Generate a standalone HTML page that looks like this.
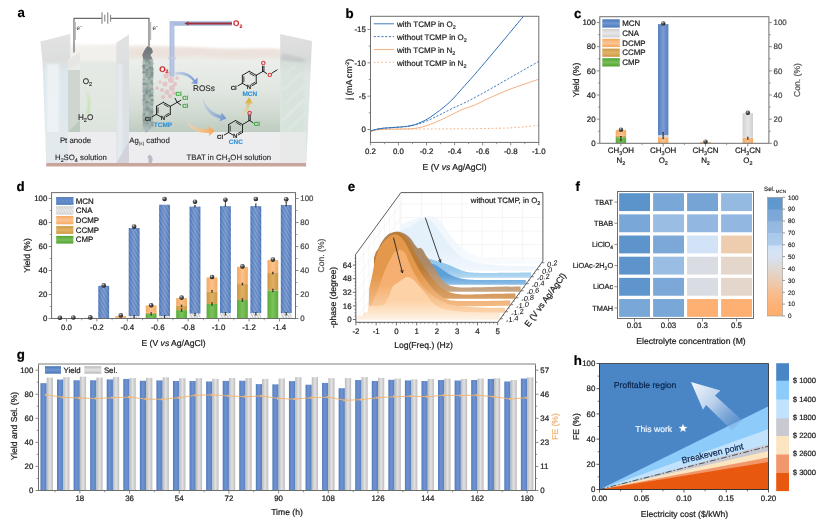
<!DOCTYPE html>
<html lang="en">
<head>
<meta charset="utf-8">
<title>Figure</title>
<style>
html,body{margin:0;padding:0;background:#fff;}
body{width:826px;height:524px;overflow:hidden;font-family:'Liberation Sans', Arial, Helvetica, sans-serif;}
svg{display:block;}
svg text{font-family:'Liberation Sans', Arial, Helvetica, sans-serif;text-rendering:geometricPrecision;}
</style>
</head>
<body>
<svg width="826" height="524" viewBox="0 0 826 524">
<defs>
<linearGradient id="gMCN" x1="0" x2="1" y1="0" y2="0"><stop offset="0" stop-color="#547fbf"/><stop offset="0.5" stop-color="#7c9cd3"/><stop offset="1" stop-color="#547fbf"/></linearGradient>
<linearGradient id="gCNA" x1="0" x2="1" y1="0" y2="0"><stop offset="0" stop-color="#d0d0d2"/><stop offset="0.5" stop-color="#e6e6e8"/><stop offset="1" stop-color="#d0d0d2"/></linearGradient>
<linearGradient id="gDCMP" x1="0" x2="1" y1="0" y2="0"><stop offset="0" stop-color="#f5a95f"/><stop offset="0.5" stop-color="#fbc28e"/><stop offset="1" stop-color="#f5a95f"/></linearGradient>
<linearGradient id="gCCMP" x1="0" x2="1" y1="0" y2="0"><stop offset="0" stop-color="#cf9840"/><stop offset="0.5" stop-color="#deb066"/><stop offset="1" stop-color="#cf9840"/></linearGradient>
<linearGradient id="gCMP" x1="0" x2="1" y1="0" y2="0"><stop offset="0" stop-color="#5aab3a"/><stop offset="0.5" stop-color="#7cc25c"/><stop offset="1" stop-color="#5aab3a"/></linearGradient>
<linearGradient id="vMCN" x1="0" x2="0" y1="0" y2="1"><stop offset="0" stop-color="#4a78ba"/><stop offset="0.5" stop-color="#6f98d0"/><stop offset="1" stop-color="#4a78ba"/></linearGradient>
<linearGradient id="vCNA" x1="0" x2="0" y1="0" y2="1"><stop offset="0" stop-color="#cfcfd2"/><stop offset="0.5" stop-color="#e8e8ea"/><stop offset="1" stop-color="#cfcfd2"/></linearGradient>
<linearGradient id="vDCMP" x1="0" x2="0" y1="0" y2="1"><stop offset="0" stop-color="#f5a95f"/><stop offset="0.5" stop-color="#fcc595"/><stop offset="1" stop-color="#f5a95f"/></linearGradient>
<linearGradient id="vCCMP" x1="0" x2="0" y1="0" y2="1"><stop offset="0" stop-color="#cf9840"/><stop offset="0.5" stop-color="#e0b46c"/><stop offset="1" stop-color="#cf9840"/></linearGradient>
<linearGradient id="vCMP" x1="0" x2="0" y1="0" y2="1"><stop offset="0" stop-color="#52a233"/><stop offset="0.5" stop-color="#78be59"/><stop offset="1" stop-color="#52a233"/></linearGradient>
<radialGradient id="sph" cx="0.38" cy="0.32" r="0.7"><stop offset="0" stop-color="#f4f4f4"/><stop offset="0.3" stop-color="#6a6a6a"/><stop offset="1" stop-color="#101010"/></radialGradient>
<pattern id="hatB" width="3" height="3" patternUnits="userSpaceOnUse" patternTransform="rotate(-30)"><rect width="3" height="3" fill="#7095cf"/><rect width="1.3" height="3" fill="#4a72b4"/></pattern>
<pattern id="hatG" width="2.4" height="2.4" patternUnits="userSpaceOnUse" patternTransform="rotate(-30)"><rect width="2.4" height="2.4" fill="#eeeeee"/><rect width="0.7" height="2.4" fill="#b9b9b9"/></pattern>
<linearGradient id="shB" x1="0" x2="1" y1="0" y2="0"><stop offset="0" stop-color="#2d5aa0" stop-opacity="0.25"/><stop offset="0.5" stop-color="#fff" stop-opacity="0.15"/><stop offset="1" stop-color="#2d5aa0" stop-opacity="0.25"/></linearGradient>
<filter id="bl1" x="-20%" y="-20%" width="140%" height="140%"><feGaussianBlur stdDeviation="0.8"/></filter>
<filter id="bl2" x="-30%" y="-30%" width="160%" height="160%"><feGaussianBlur stdDeviation="1.8"/></filter>
<filter id="bl07" x="-30%" y="-30%" width="160%" height="160%"><feGaussianBlur stdDeviation="0.65"/></filter>
<filter id="bl05" x="-20%" y="-20%" width="140%" height="140%"><feGaussianBlur stdDeviation="0.45"/></filter>
<linearGradient id="aLiq" x1="0" x2="0" y1="0" y2="1"><stop offset="0" stop-color="#ebeeeb"/><stop offset="0.35" stop-color="#e3e8e3"/><stop offset="0.7" stop-color="#d3dcd4"/><stop offset="1" stop-color="#bdcbc0"/></linearGradient>
<linearGradient id="aSurf" x1="0" x2="0" y1="0" y2="1"><stop offset="0" stop-color="#f1e8e2"/><stop offset="0.5" stop-color="#eeeae5"/><stop offset="1" stop-color="#e9ece8"/></linearGradient>
<linearGradient id="aLeft" x1="0" x2="0" y1="0" y2="1"><stop offset="0" stop-color="#e2e2e2"/><stop offset="0.2" stop-color="#dcdedd"/><stop offset="0.3" stop-color="#dde8ec"/><stop offset="1" stop-color="#e1eaee"/></linearGradient>
<linearGradient id="aRight" x1="0" x2="0" y1="0" y2="1"><stop offset="0" stop-color="#e0e0e0"/><stop offset="0.2" stop-color="#d8dad9"/><stop offset="0.32" stop-color="#dfe7e3"/><stop offset="0.8" stop-color="#dae5df"/><stop offset="1" stop-color="#e6e9e9"/></linearGradient>
<linearGradient id="aMid" x1="0" x2="0" y1="0" y2="1"><stop offset="0" stop-color="#e2e2e2"/><stop offset="0.25" stop-color="#dcdfe0"/><stop offset="1" stop-color="#dde3e9"/></linearGradient>
<linearGradient id="aEl" x1="0" x2="0" y1="0" y2="1"><stop offset="0" stop-color="#6d7378"/><stop offset="0.15" stop-color="#7f878a"/><stop offset="0.2" stop-color="#9aaaa5"/><stop offset="0.85" stop-color="#a0b1ab"/><stop offset="1" stop-color="#a9b4c8"/></linearGradient>
<linearGradient id="aTube" x1="0" x2="1" y1="0" y2="0"><stop offset="0" stop-color="#9fb2d6"/><stop offset="0.5" stop-color="#b9c7e4"/><stop offset="1" stop-color="#a6b8da"/></linearGradient>
<linearGradient id="aAb" x1="0" x2="1" y1="0" y2="0"><stop offset="0" stop-color="#a9bfe4" stop-opacity="0.5"/><stop offset="1" stop-color="#6f93cf"/></linearGradient>
<linearGradient id="aAo" x1="0" x2="1" y1="0" y2="0"><stop offset="0" stop-color="#fbd9b4" stop-opacity="0.5"/><stop offset="1" stop-color="#f6a54f"/></linearGradient>
<linearGradient id="aAy" x1="0" x2="0" y1="1" y2="0"><stop offset="0" stop-color="#f3dfa0" stop-opacity="0.4"/><stop offset="1" stop-color="#d9a520"/></linearGradient>
<linearGradient id="es0" x1="0" x2="0" y1="0" y2="1"><stop offset="0" stop-color="#f1f7fd"/><stop offset="0.55" stop-color="#f1f7fd"/><stop offset="1" stop-color="#f8fbfe"/></linearGradient>
<linearGradient id="es1" x1="0" x2="0" y1="0" y2="1"><stop offset="0" stop-color="#e4f0fa"/><stop offset="0.55" stop-color="#e4f0fa"/><stop offset="1" stop-color="#f1f7fd"/></linearGradient>
<linearGradient id="es2" x1="0" x2="0" y1="0" y2="1"><stop offset="0" stop-color="#93c7ec"/><stop offset="0.55" stop-color="#93c7ec"/><stop offset="1" stop-color="#b4d8f2"/></linearGradient>
<linearGradient id="es3" x1="0" x2="0" y1="0" y2="1"><stop offset="0" stop-color="#5d9fd7"/><stop offset="0.55" stop-color="#5d9fd7"/><stop offset="1" stop-color="#8dbfe7"/></linearGradient>
<linearGradient id="es4" x1="0" x2="0" y1="0" y2="1"><stop offset="0" stop-color="#ab8a6a"/><stop offset="0.55" stop-color="#ab8a6a"/><stop offset="1" stop-color="#c9a785"/></linearGradient>
<linearGradient id="es5" x1="0" x2="0" y1="0" y2="1"><stop offset="0" stop-color="#bb7c38"/><stop offset="0.55" stop-color="#bb7c38"/><stop offset="1" stop-color="#d9a066"/></linearGradient>
<linearGradient id="es6" x1="0" x2="0" y1="0" y2="1"><stop offset="0" stop-color="#e4984c"/><stop offset="0.55" stop-color="#e4984c"/><stop offset="1" stop-color="#f4bc88"/></linearGradient>
<linearGradient id="es7" x1="0" x2="0" y1="0" y2="1"><stop offset="0" stop-color="#f5b071"/><stop offset="0.55" stop-color="#f5b071"/><stop offset="1" stop-color="#fbd3aa"/></linearGradient>
<linearGradient id="es8" x1="0" x2="0" y1="0" y2="1"><stop offset="0" stop-color="#fdd2a6"/><stop offset="0.55" stop-color="#fdd2a6"/><stop offset="1" stop-color="#fef2e4"/></linearGradient>
<linearGradient id="cbf" x1="0" x2="0" y1="0" y2="1"><stop offset="0" stop-color="#5f96cc"/><stop offset="0.10" stop-color="#6199ce"/><stop offset="0.105" stop-color="#7aa7d7"/><stop offset="0.20" stop-color="#7ea9d8"/><stop offset="0.205" stop-color="#93b8e0"/><stop offset="0.30" stop-color="#97bbe2"/><stop offset="0.305" stop-color="#a9c8ea"/><stop offset="0.40" stop-color="#afcdec"/><stop offset="0.41" stop-color="#cfe0f5"/><stop offset="0.48" stop-color="#d6e4f6"/><stop offset="0.55" stop-color="#dadee4"/><stop offset="0.62" stop-color="#e2d6cb"/><stop offset="0.72" stop-color="#eccbaf"/><stop offset="0.82" stop-color="#f8bb8a"/><stop offset="0.92" stop-color="#fdb173"/><stop offset="1" stop-color="#fdae6e"/></linearGradient>
<linearGradient id="gY" x1="0" x2="1" y1="0" y2="0"><stop offset="0" stop-color="#527abd"/><stop offset="0.45" stop-color="#6f94d0"/><stop offset="1" stop-color="#5880c2"/></linearGradient>
<linearGradient id="gS" x1="0" x2="1" y1="0" y2="0"><stop offset="0" stop-color="#b9b9bb"/><stop offset="0.5" stop-color="#e2e2e3"/><stop offset="1" stop-color="#bdbdbf"/></linearGradient>
<linearGradient id="gYv" x1="0" x2="0" y1="0" y2="1"><stop offset="0" stop-color="#4a76b8"/><stop offset="0.5" stop-color="#7098d2"/><stop offset="1" stop-color="#4a76b8"/></linearGradient>
<linearGradient id="gSv" x1="0" x2="0" y1="0" y2="1"><stop offset="0" stop-color="#b9b9bb"/><stop offset="0.5" stop-color="#e4e4e5"/><stop offset="1" stop-color="#b9b9bb"/></linearGradient>
<linearGradient id="arw" gradientUnits="userSpaceOnUse" x1="691" y1="382" x2="742" y2="428"><stop offset="0" stop-color="#f4f8fd"/><stop offset="0.45" stop-color="#b9d0ec"/><stop offset="1" stop-color="#6f9ed4" stop-opacity="0.25"/></linearGradient>
</defs>
<rect width="826" height="524" fill="#ffffff"/>
<g id="pa">
<text x="17.4" y="17.2" font-size="13.3" font-weight="bold" fill="#000" stroke="#000" stroke-width="0.1">a</text>
<path d="M70,48 C110,45 150,45 190,47 C230,49 260,48 281,49 L281,64 L70,64 Z" fill="url(#aSurf)" stroke="none" stroke-width="1" filter="url(#bl1)"/>
<rect x="70.00" y="44.00" width="47.00" height="22.00" fill="#f3f2ef" opacity="0.75" filter="url(#bl1)"/>
<path d="M129,50 C150,46 165,49 185,48 C205,47 215,51 235,50 C255,49 265,47 281,50 L281,58 C262,56 250,60 232,59 C212,58 200,55 180,57 C160,59 150,56 129,58 Z" fill="#ead8cf" stroke="none" stroke-width="1" opacity="0.4" filter="url(#bl1)"/>
<rect x="66.00" y="60.00" width="216.00" height="73.00" fill="url(#aLiq)"/>
<rect x="80.00" y="62.00" width="37.00" height="70.00" fill="#e3e8e3" opacity="0.8"/>
<polygon points="40.40,41.50 70.30,34.00 70.30,58.00 68.00,60.00 68.00,163.00 46.20,163.00 42.50,62.00" fill="url(#aLeft)" stroke="none" stroke-width="1"/>
<rect x="47.00" y="64.00" width="12.00" height="99.00" fill="#f0f5f7" opacity="0.8" filter="url(#bl1)"/>
<rect x="68.00" y="70.00" width="12.00" height="62.00" fill="#cfd6cf"/>
<polygon points="68.00,132.00 80.00,120.00 80.00,132.00" fill="#bcc9bf" stroke="none" stroke-width="1"/>
<polygon points="68.00,60.00 80.00,52.00 80.00,64.00 68.00,70.00" fill="#e6e7e4" stroke="none" stroke-width="1"/>
<rect x="46.20" y="132.00" width="260.00" height="31.20" fill="#ededef"/>
<rect x="46.20" y="132.00" width="22.00" height="31.20" fill="#e3eaee"/>
<polygon points="116.40,42.40 129.00,34.40 129.00,163.00 116.40,163.00" fill="url(#aMid)" stroke="none" stroke-width="1"/>
<rect x="117.50" y="64.00" width="5.00" height="99.00" fill="#e6ebf0" opacity="0.8"/>
<polygon points="116.40,163.00 129.00,163.00 129.00,140.00 124.00,150.00" fill="#d3d3dc" stroke="none" stroke-width="1"/>
<polygon points="280.20,34.00 312.00,41.00 306.20,166.60 280.20,163.00" fill="url(#aRight)" stroke="none" stroke-width="1"/>
<rect x="282.00" y="62.00" width="22.00" height="70.00" fill="#d5e2da" opacity="0.7" filter="url(#bl1)"/>
<rect x="280.00" y="132.00" width="26.00" height="31.00" fill="#e8eaea"/>
<g opacity="0.5" filter="url(#bl1)">
<line x1="284.00" y1="74.00" x2="296.00" y2="66.00" stroke="#f2f6f4" stroke-width="1.2"/>
<line x1="283.00" y1="90.00" x2="303.00" y2="72.00" stroke="#f2f6f4" stroke-width="1.6"/>
<line x1="285.00" y1="104.00" x2="304.00" y2="86.00" stroke="#f2f6f4" stroke-width="1.2"/>
<line x1="283.00" y1="120.00" x2="304.00" y2="100.00" stroke="#f2f6f4" stroke-width="1.8"/>
<line x1="288.00" y1="130.00" x2="305.00" y2="114.00" stroke="#f2f6f4" stroke-width="1.2"/>
<line x1="283.00" y1="82.00" x2="290.00" y2="76.00" stroke="#f2f6f4" stroke-width="0.8"/>
</g>
<path d="M281,55 C286,53 292,56 299,57 C303,58 306,60 305,62 C298,63 290,61 281,60 Z" fill="#bfc4c2" stroke="none" stroke-width="1" opacity="0.7" filter="url(#bl1)"/>
<polygon points="46.20,163.00 306.00,163.00 306.00,166.60 46.20,166.60" fill="#c9a69d" stroke="none" stroke-width="1"/>
<path d="M147.5,46 L151.5,48 L153,52 L150.5,55 L152.5,59 L153,66 L153.4,75 L152.8,84 L153.4,93 L152.8,102 L153.4,111 L152.6,120 L151,128 L146,133 L143.5,128 L142.6,120 L143.2,111 L142.5,102 L143.2,93 L142.5,84 L143.2,75 L142.5,66 L143.5,60 L142.2,55 L144.5,50 Z" fill="url(#aEl)" stroke="none" stroke-width="1" filter="url(#bl05)"/>
<g opacity="0.85">
<circle cx="144.02" cy="60.58" r="1.5" fill="#9fb0aa"/>
<circle cx="146.55" cy="61.39" r="1.5" fill="#8a9b97"/>
<circle cx="149.67" cy="60.47" r="1.5" fill="#94a5a0"/>
<circle cx="151.71" cy="60.50" r="1.5" fill="#b3c0bb"/>
<circle cx="143.77" cy="62.81" r="1.5" fill="#b3c0bb"/>
<circle cx="146.56" cy="63.38" r="1.5" fill="#a6b5b0"/>
<circle cx="149.93" cy="63.40" r="1.5" fill="#8a9b97"/>
<circle cx="152.08" cy="63.18" r="1.5" fill="#a6b5b0"/>
<circle cx="143.75" cy="66.03" r="1.5" fill="#7d8f8b"/>
<circle cx="146.92" cy="65.65" r="1.5" fill="#94a5a0"/>
<circle cx="149.61" cy="65.98" r="1.5" fill="#a6b5b0"/>
<circle cx="151.60" cy="65.69" r="1.5" fill="#a6b5b0"/>
<circle cx="144.07" cy="67.96" r="1.5" fill="#8a9b97"/>
<circle cx="147.06" cy="68.04" r="1.5" fill="#b3c0bb"/>
<circle cx="149.98" cy="67.81" r="1.5" fill="#7d8f8b"/>
<circle cx="151.97" cy="68.41" r="1.5" fill="#7d8f8b"/>
<circle cx="144.00" cy="70.55" r="1.5" fill="#9fb0aa"/>
<circle cx="147.28" cy="69.70" r="1.5" fill="#7d8f8b"/>
<circle cx="149.83" cy="70.65" r="1.5" fill="#9fb0aa"/>
<circle cx="151.95" cy="70.33" r="1.5" fill="#8a9b97"/>
<circle cx="143.82" cy="72.40" r="1.5" fill="#7d8f8b"/>
<circle cx="146.65" cy="72.49" r="1.5" fill="#8a9b97"/>
<circle cx="150.26" cy="71.99" r="1.5" fill="#94a5a0"/>
<circle cx="152.07" cy="72.95" r="1.5" fill="#7d8f8b"/>
<circle cx="144.04" cy="74.62" r="1.5" fill="#b3c0bb"/>
<circle cx="147.08" cy="74.75" r="1.5" fill="#8a9b97"/>
<circle cx="150.24" cy="74.77" r="1.5" fill="#9fb0aa"/>
<circle cx="151.56" cy="75.08" r="1.5" fill="#7d8f8b"/>
<circle cx="144.35" cy="77.69" r="1.5" fill="#b3c0bb"/>
<circle cx="146.78" cy="76.96" r="1.5" fill="#9fb0aa"/>
<circle cx="149.65" cy="77.63" r="1.5" fill="#7d8f8b"/>
<circle cx="151.67" cy="76.64" r="1.5" fill="#8a9b97"/>
<circle cx="143.92" cy="79.14" r="1.5" fill="#9fb0aa"/>
<circle cx="146.75" cy="79.27" r="1.5" fill="#b3c0bb"/>
<circle cx="149.38" cy="79.34" r="1.5" fill="#94a5a0"/>
<circle cx="151.78" cy="78.96" r="1.5" fill="#b3c0bb"/>
<circle cx="144.56" cy="81.43" r="1.5" fill="#b3c0bb"/>
<circle cx="147.49" cy="81.92" r="1.5" fill="#b3c0bb"/>
<circle cx="150.26" cy="81.28" r="1.5" fill="#a6b5b0"/>
<circle cx="151.65" cy="81.89" r="1.5" fill="#8a9b97"/>
<circle cx="144.18" cy="84.11" r="1.5" fill="#7d8f8b"/>
<circle cx="146.78" cy="83.57" r="1.5" fill="#94a5a0"/>
<circle cx="149.67" cy="84.08" r="1.5" fill="#a6b5b0"/>
<circle cx="152.19" cy="84.02" r="1.5" fill="#94a5a0"/>
<circle cx="144.35" cy="86.59" r="1.5" fill="#b3c0bb"/>
<circle cx="147.40" cy="86.64" r="1.5" fill="#9fb0aa"/>
<circle cx="150.10" cy="86.17" r="1.5" fill="#b3c0bb"/>
<circle cx="151.89" cy="86.28" r="1.5" fill="#b3c0bb"/>
<circle cx="143.76" cy="88.08" r="1.5" fill="#a6b5b0"/>
<circle cx="146.94" cy="88.13" r="1.5" fill="#94a5a0"/>
<circle cx="149.35" cy="88.00" r="1.5" fill="#a6b5b0"/>
<circle cx="152.04" cy="89.14" r="1.5" fill="#94a5a0"/>
<circle cx="143.73" cy="91.35" r="1.5" fill="#94a5a0"/>
<circle cx="146.88" cy="91.06" r="1.5" fill="#7d8f8b"/>
<circle cx="149.90" cy="90.87" r="1.5" fill="#8a9b97"/>
<circle cx="152.35" cy="91.49" r="1.5" fill="#b3c0bb"/>
<circle cx="144.18" cy="92.97" r="1.5" fill="#a6b5b0"/>
<circle cx="146.60" cy="93.01" r="1.5" fill="#7d8f8b"/>
<circle cx="149.78" cy="93.43" r="1.5" fill="#94a5a0"/>
<circle cx="151.52" cy="93.74" r="1.5" fill="#94a5a0"/>
<circle cx="144.06" cy="95.73" r="1.5" fill="#8a9b97"/>
<circle cx="147.26" cy="95.26" r="1.5" fill="#9fb0aa"/>
<circle cx="150.16" cy="95.74" r="1.5" fill="#7d8f8b"/>
<circle cx="152.02" cy="95.99" r="1.5" fill="#7d8f8b"/>
<circle cx="144.47" cy="97.84" r="1.5" fill="#94a5a0"/>
<circle cx="146.83" cy="97.47" r="1.5" fill="#a6b5b0"/>
<circle cx="150.11" cy="98.18" r="1.5" fill="#9fb0aa"/>
<circle cx="152.30" cy="97.44" r="1.5" fill="#b3c0bb"/>
<circle cx="144.06" cy="99.53" r="1.5" fill="#8a9b97"/>
<circle cx="147.29" cy="100.07" r="1.5" fill="#a6b5b0"/>
<circle cx="149.99" cy="100.65" r="1.5" fill="#b3c0bb"/>
<circle cx="152.31" cy="100.37" r="1.5" fill="#7d8f8b"/>
<circle cx="144.66" cy="102.24" r="1.5" fill="#a6b5b0"/>
<circle cx="146.60" cy="102.36" r="1.5" fill="#7d8f8b"/>
<circle cx="149.50" cy="102.55" r="1.5" fill="#94a5a0"/>
<circle cx="152.34" cy="102.38" r="1.5" fill="#9fb0aa"/>
<circle cx="144.04" cy="104.87" r="1.5" fill="#9fb0aa"/>
<circle cx="146.62" cy="104.57" r="1.5" fill="#9fb0aa"/>
<circle cx="150.05" cy="104.67" r="1.5" fill="#a6b5b0"/>
<circle cx="151.93" cy="104.86" r="1.5" fill="#8a9b97"/>
<circle cx="144.50" cy="107.57" r="1.5" fill="#b3c0bb"/>
<circle cx="146.96" cy="107.29" r="1.5" fill="#8a9b97"/>
<circle cx="150.02" cy="106.60" r="1.5" fill="#a6b5b0"/>
<circle cx="151.53" cy="107.11" r="1.5" fill="#b3c0bb"/>
<circle cx="144.51" cy="108.88" r="1.5" fill="#94a5a0"/>
<circle cx="147.48" cy="109.49" r="1.5" fill="#7d8f8b"/>
<circle cx="149.46" cy="109.36" r="1.5" fill="#8a9b97"/>
<circle cx="151.51" cy="109.87" r="1.5" fill="#9fb0aa"/>
<circle cx="143.80" cy="111.90" r="1.5" fill="#a6b5b0"/>
<circle cx="146.93" cy="112.05" r="1.5" fill="#a6b5b0"/>
<circle cx="149.33" cy="111.26" r="1.5" fill="#94a5a0"/>
<circle cx="151.74" cy="111.70" r="1.5" fill="#7d8f8b"/>
<circle cx="144.24" cy="114.30" r="1.5" fill="#8a9b97"/>
<circle cx="147.41" cy="113.72" r="1.5" fill="#b3c0bb"/>
<circle cx="149.96" cy="114.28" r="1.5" fill="#94a5a0"/>
<circle cx="151.92" cy="114.40" r="1.5" fill="#94a5a0"/>
<circle cx="143.83" cy="115.78" r="1.5" fill="#94a5a0"/>
<circle cx="146.52" cy="116.13" r="1.5" fill="#a6b5b0"/>
<circle cx="149.91" cy="116.53" r="1.5" fill="#a6b5b0"/>
<circle cx="151.67" cy="116.17" r="1.5" fill="#9fb0aa"/>
<circle cx="143.82" cy="117.97" r="1.5" fill="#9fb0aa"/>
<circle cx="147.02" cy="118.57" r="1.5" fill="#8a9b97"/>
<circle cx="150.18" cy="117.97" r="1.5" fill="#a6b5b0"/>
<circle cx="151.78" cy="118.83" r="1.5" fill="#94a5a0"/>
<circle cx="144.15" cy="120.23" r="1.5" fill="#8a9b97"/>
<circle cx="146.94" cy="120.94" r="1.5" fill="#94a5a0"/>
<circle cx="149.91" cy="120.44" r="1.5" fill="#7d8f8b"/>
<circle cx="151.95" cy="120.84" r="1.5" fill="#b3c0bb"/>
<circle cx="144.21" cy="122.80" r="1.5" fill="#94a5a0"/>
<circle cx="147.38" cy="123.63" r="1.5" fill="#7d8f8b"/>
<circle cx="150.22" cy="123.57" r="1.5" fill="#a6b5b0"/>
<circle cx="152.34" cy="122.66" r="1.5" fill="#8a9b97"/>
<circle cx="144.09" cy="125.18" r="1.5" fill="#9fb0aa"/>
<circle cx="146.74" cy="124.89" r="1.5" fill="#9fb0aa"/>
<circle cx="149.60" cy="124.95" r="1.5" fill="#a6b5b0"/>
<circle cx="152.44" cy="125.57" r="1.5" fill="#7d8f8b"/>
<circle cx="143.84" cy="128.16" r="1.5" fill="#b3c0bb"/>
<circle cx="146.72" cy="128.24" r="1.5" fill="#b3c0bb"/>
<circle cx="150.18" cy="127.30" r="1.5" fill="#9fb0aa"/>
<circle cx="152.33" cy="127.29" r="1.5" fill="#b3c0bb"/>
</g>
<circle cx="157.00" cy="88.00" r="1.87" fill="#e6a9ad" opacity="0.55" filter="url(#bl07)"/>
<circle cx="163.00" cy="97.00" r="2.04" fill="#e6a9ad" opacity="0.55" filter="url(#bl07)"/>
<circle cx="174.00" cy="93.00" r="2.04" fill="#e6a9ad" opacity="0.55" filter="url(#bl07)"/>
<circle cx="168.00" cy="73.00" r="1.7" fill="#e6a9ad" opacity="0.55" filter="url(#bl07)"/>
<circle cx="166.00" cy="76.00" r="2.72" fill="#e6a9ad" opacity="0.55" filter="url(#bl07)"/>
<circle cx="171.00" cy="80.00" r="3.06" fill="#e6a9ad" opacity="0.55" filter="url(#bl07)"/>
<circle cx="165.00" cy="84.00" r="2.55" fill="#e6a9ad" opacity="0.55" filter="url(#bl07)"/>
<circle cx="172.00" cy="88.00" r="2.8899999999999997" fill="#e6a9ad" opacity="0.55" filter="url(#bl07)"/>
<circle cx="167.00" cy="92.00" r="2.55" fill="#e6a9ad" opacity="0.55" filter="url(#bl07)"/>
<circle cx="175.00" cy="84.00" r="2.21" fill="#e6a9ad" opacity="0.55" filter="url(#bl07)"/>
<circle cx="162.00" cy="90.00" r="2.04" fill="#e6a9ad" opacity="0.55" filter="url(#bl07)"/>
<circle cx="170.00" cy="96.00" r="2.21" fill="#e6a9ad" opacity="0.55" filter="url(#bl07)"/>
<circle cx="177.00" cy="78.00" r="1.87" fill="#e6a9ad" opacity="0.55" filter="url(#bl07)"/>
<circle cx="160.00" cy="82.00" r="1.7" fill="#e6a9ad" opacity="0.55" filter="url(#bl07)"/>
<polyline points="74.00,52.60 74.00,18.40 101.60,18.40" fill="none" stroke="#6b6b6b" stroke-width="1.2"/>
<polyline points="111.00,18.40 149.00,18.40 149.00,46.50" fill="none" stroke="#6b6b6b" stroke-width="1.2"/>
<line x1="102.00" y1="12.30" x2="102.00" y2="23.80" stroke="#6b6b6b" stroke-width="0.9"/>
<line x1="104.80" y1="14.80" x2="104.80" y2="21.60" stroke="#6b6b6b" stroke-width="0.9"/>
<line x1="107.80" y1="12.30" x2="107.80" y2="23.80" stroke="#6b6b6b" stroke-width="0.9"/>
<line x1="110.60" y1="14.80" x2="110.60" y2="21.60" stroke="#6b6b6b" stroke-width="0.9"/>
<rect x="74.60" y="22.00" width="1.40" height="18.00" fill="#bbb"/>
<rect x="149.80" y="22.00" width="1.40" height="18.00" fill="#bbb"/>
<text x="76.6" y="30" font-size="6.4" fill="#333">e<tspan font-size="85%" dy="-2.4">-</tspan></text>
<text x="152.4" y="30" font-size="6.4" fill="#333">e<tspan font-size="85%" dy="-2.4">-</tspan></text>
<rect x="170.00" y="21.20" width="62.00" height="4.60" fill="#a9bbdc"/>
<rect x="169.60" y="21.20" width="4.80" height="55.50" fill="url(#aTube)" opacity="0.95"/>
<rect x="168.00" y="57.50" width="8.00" height="1.60" fill="#c4cfe4"/>
<line x1="232.00" y1="23.50" x2="187.00" y2="23.50" stroke="#a02f3c" stroke-width="2.0"/>
<polygon points="184.40,23.50 188.40,21.60 188.40,25.40" fill="#a02f3c" stroke="none" stroke-width="1"/>
<text x="233" y="26" font-size="8.2" font-weight="bold" fill="#c92027" stroke="#c92027" stroke-width="0.1">O<tspan font-size="62%" dy="1.6">2</tspan></text>
<text x="159.2" y="71.7" font-size="8.2" font-weight="bold" fill="#c92027" stroke="#c92027" stroke-width="0.1">O<tspan font-size="62%" dy="1.6">2</tspan></text>
<path d="M175,72.5 C182,70.5 190,73 195,80 L197.6,77.6 L197.4,84 L190.8,83.4 L193.4,81.2 C189,75.6 182.5,73.8 175.6,75 Z" fill="url(#aAb)" stroke="none" stroke-width="1" filter="url(#bl05)"/>
<path d="M202.6,97 C205,106.4 212,113 221,115.4 L221.6,112.4 L226.4,118.4 L219.4,121.6 L220,118.6 C210,116.6 203.4,109 202.6,97 Z" fill="url(#aAb)" stroke="none" stroke-width="1" filter="url(#bl05)"/>
<path d="M186.2,119.6 C190,126 198,129.4 208.4,129 L208,126.2 L214.8,131 L209,136 L208.8,133 C196.4,133.8 188.6,128.6 186.2,119.6 Z" fill="url(#aAo)" stroke="none" stroke-width="1" filter="url(#bl05)"/>
<path d="M148.6,163 L148.4,158.6 L147.4,157 L149.6,154.6 L151.8,156.4 L152.8,159.4 L151.6,163 Z" fill="#b9bcc6" stroke="none" stroke-width="1" filter="url(#bl05)"/>
<path d="M236,116.6 C242,114.6 246,109.6 247.4,103.4 L244.6,103.4 L249.2,97.6 L252.8,103.6 L250.2,103.6 C248.8,110.6 244,115.6 236,116.6 Z" fill="url(#aAy)" stroke="none" stroke-width="1" filter="url(#bl05)"/>
<path d="M86.4,114 C88.6,106 88.6,98 86,90 C90.6,97 91,107 88.6,114 Z" fill="#b9e2a4" stroke="none" stroke-width="1" filter="url(#bl1)" opacity="0.9"/>
<text x="82.7" y="83.9" font-size="8.2" fill="#222" stroke="#222" stroke-width="0.1">O<tspan font-size="68%" dy="2.3">2</tspan></text>
<text x="77.9" y="119.7" font-size="8.2" fill="#222" stroke="#222" stroke-width="0.1">H<tspan font-size="68%" dy="2.3">2</tspan><tspan dy="-2.3">O</tspan></text>
<text x="59.9" y="143.3" font-size="7.8" fill="#222" stroke="#222" stroke-width="0.1">Pt anode</text>
<text x="55" y="159.9" font-size="7.8" fill="#222" stroke="#222" stroke-width="0.1">H<tspan font-size="68%" dy="2.3">2</tspan><tspan dy="-2.3">SO</tspan><tspan font-size="68%" dy="2.3">4</tspan><tspan dy="-2.3"> solution</tspan></text>
<text x="129.2" y="143.3" font-size="7.8" fill="#222" stroke="#222" stroke-width="0.1">Ag<tspan font-size="60%" dy="1.8" stroke-width="0">(s)</tspan><tspan dy="-1.8"> cathod</tspan></text>
<text x="186.5" y="159.9" font-size="7.8" fill="#222" stroke="#222" stroke-width="0.1">TBAT in CH<tspan font-size="68%" dy="2.3">3</tspan><tspan dy="-2.3">OH solution</tspan></text>
<text x="193" y="90.6" font-size="8.2" fill="#222" stroke="#222" stroke-width="0.1">ROSs</text>
<line x1="163.40" y1="102.30" x2="170.33" y2="106.30" stroke="#1c1c1c" stroke-width="0.95" stroke-linecap="round"/>
<line x1="170.33" y1="106.30" x2="170.33" y2="114.30" stroke="#1c1c1c" stroke-width="0.95" stroke-linecap="round"/>
<line x1="170.33" y1="114.30" x2="166.03" y2="116.78" stroke="#1c1c1c" stroke-width="0.95" stroke-linecap="round"/>
<line x1="160.77" y1="116.78" x2="156.47" y2="114.30" stroke="#1c1c1c" stroke-width="0.95" stroke-linecap="round"/>
<line x1="156.47" y1="114.30" x2="156.47" y2="106.30" stroke="#1c1c1c" stroke-width="0.95" stroke-linecap="round"/>
<line x1="156.47" y1="106.30" x2="163.40" y2="102.30" stroke="#1c1c1c" stroke-width="0.95" stroke-linecap="round"/>
<line x1="163.90" y1="104.32" x2="168.33" y2="106.88" stroke="#1c1c1c" stroke-width="0.85" stroke-linecap="round"/>
<line x1="157.97" y1="112.86" x2="157.97" y2="107.74" stroke="#1c1c1c" stroke-width="0.85" stroke-linecap="round"/>
<line x1="168.89" y1="113.44" x2="165.56" y2="115.36" stroke="#1c1c1c" stroke-width="0.85" stroke-linecap="round"/>
<text x="163.0" y="120.0" font-size="6.0" text-anchor="middle" font-weight="bold" fill="#222" stroke="#222" stroke-width="0.1">N</text>
<line x1="156.47" y1="114.30" x2="152.07" y2="116.80" stroke="#1c1c1c" stroke-width="0.95" stroke-linecap="round"/>
<text x="150.87" y="121.1" font-size="6.0" text-anchor="end" font-weight="bold" fill="#222" stroke="#222" stroke-width="0.1">Cl</text>
<line x1="170.33" y1="106.30" x2="177.23" y2="102.30" stroke="#1c1c1c" stroke-width="0.95" stroke-linecap="round"/>
<line x1="177.23" y1="102.30" x2="175.03" y2="98.30" stroke="#1c1c1c" stroke-width="0.95" stroke-linecap="round"/>
<line x1="177.23" y1="102.30" x2="180.83" y2="100.30" stroke="#1c1c1c" stroke-width="0.95" stroke-linecap="round"/>
<line x1="177.23" y1="102.30" x2="180.63" y2="104.90" stroke="#1c1c1c" stroke-width="0.95" stroke-linecap="round"/>
<text x="175.6" y="96.2" font-size="6.0" font-weight="bold" fill="#2ea52e" stroke="#2ea52e" stroke-width="0.1">Cl</text>
<text x="182.2" y="100.2" font-size="6.0" font-weight="bold" fill="#2ea52e" stroke="#2ea52e" stroke-width="0.1">Cl</text>
<text x="182.2" y="108.0" font-size="6.0" font-weight="bold" fill="#2ea52e" stroke="#2ea52e" stroke-width="0.1">Cl</text>
<text x="163" y="126.8" font-size="6.5" text-anchor="middle" font-weight="bold" fill="#2b8fd8" stroke="#2b8fd8" stroke-width="0.1">TCMP</text>
<line x1="249.30" y1="71.30" x2="256.23" y2="75.30" stroke="#1c1c1c" stroke-width="0.95" stroke-linecap="round"/>
<line x1="256.23" y1="75.30" x2="256.23" y2="83.30" stroke="#1c1c1c" stroke-width="0.95" stroke-linecap="round"/>
<line x1="256.23" y1="83.30" x2="251.93" y2="85.78" stroke="#1c1c1c" stroke-width="0.95" stroke-linecap="round"/>
<line x1="246.67" y1="85.78" x2="242.37" y2="83.30" stroke="#1c1c1c" stroke-width="0.95" stroke-linecap="round"/>
<line x1="242.37" y1="83.30" x2="242.37" y2="75.30" stroke="#1c1c1c" stroke-width="0.95" stroke-linecap="round"/>
<line x1="242.37" y1="75.30" x2="249.30" y2="71.30" stroke="#1c1c1c" stroke-width="0.95" stroke-linecap="round"/>
<line x1="249.80" y1="73.32" x2="254.23" y2="75.88" stroke="#1c1c1c" stroke-width="0.85" stroke-linecap="round"/>
<line x1="243.87" y1="81.86" x2="243.87" y2="76.74" stroke="#1c1c1c" stroke-width="0.85" stroke-linecap="round"/>
<line x1="254.79" y1="82.44" x2="251.46" y2="84.36" stroke="#1c1c1c" stroke-width="0.85" stroke-linecap="round"/>
<text x="248.9" y="89.0" font-size="6.0" text-anchor="middle" font-weight="bold" fill="#222" stroke="#222" stroke-width="0.1">N</text>
<line x1="242.37" y1="83.30" x2="237.97" y2="85.80" stroke="#1c1c1c" stroke-width="0.95" stroke-linecap="round"/>
<text x="236.77" y="90.1" font-size="6.0" text-anchor="end" font-weight="bold" fill="#222" stroke="#222" stroke-width="0.1">Cl</text>
<line x1="256.23" y1="75.30" x2="263.13" y2="71.30" stroke="#1c1c1c" stroke-width="0.95" stroke-linecap="round"/>
<line x1="262.53" y1="71.30" x2="262.53" y2="66.10" stroke="#1c1c1c" stroke-width="0.95" stroke-linecap="round"/>
<line x1="263.93" y1="71.30" x2="263.93" y2="66.10" stroke="#1c1c1c" stroke-width="0.95" stroke-linecap="round"/>
<text x="263.23" y="65.3" font-size="6.0" text-anchor="middle" font-weight="bold" fill="#d42a2a" stroke="#d42a2a" stroke-width="0.1">O</text>
<line x1="263.13" y1="71.30" x2="266.73" y2="73.50" stroke="#1c1c1c" stroke-width="0.95" stroke-linecap="round"/>
<text x="269.73" y="76.9" font-size="6.0" text-anchor="middle" font-weight="bold" fill="#d42a2a" stroke="#d42a2a" stroke-width="0.1">O</text>
<line x1="271.93" y1="73.10" x2="277.13" y2="69.90" stroke="#1c1c1c" stroke-width="0.95" stroke-linecap="round"/>
<text x="249.8" y="95.9" font-size="6.5" text-anchor="middle" font-weight="bold" fill="#2b8fd8" stroke="#2b8fd8" stroke-width="0.1">MCN</text>
<line x1="235.60" y1="120.50" x2="242.53" y2="124.50" stroke="#1c1c1c" stroke-width="0.95" stroke-linecap="round"/>
<line x1="242.53" y1="124.50" x2="242.53" y2="132.50" stroke="#1c1c1c" stroke-width="0.95" stroke-linecap="round"/>
<line x1="242.53" y1="132.50" x2="238.23" y2="134.98" stroke="#1c1c1c" stroke-width="0.95" stroke-linecap="round"/>
<line x1="232.97" y1="134.98" x2="228.67" y2="132.50" stroke="#1c1c1c" stroke-width="0.95" stroke-linecap="round"/>
<line x1="228.67" y1="132.50" x2="228.67" y2="124.50" stroke="#1c1c1c" stroke-width="0.95" stroke-linecap="round"/>
<line x1="228.67" y1="124.50" x2="235.60" y2="120.50" stroke="#1c1c1c" stroke-width="0.95" stroke-linecap="round"/>
<line x1="236.10" y1="122.52" x2="240.53" y2="125.08" stroke="#1c1c1c" stroke-width="0.85" stroke-linecap="round"/>
<line x1="230.17" y1="131.06" x2="230.17" y2="125.94" stroke="#1c1c1c" stroke-width="0.85" stroke-linecap="round"/>
<line x1="241.09" y1="131.64" x2="237.76" y2="133.56" stroke="#1c1c1c" stroke-width="0.85" stroke-linecap="round"/>
<text x="235.2" y="138.2" font-size="6.0" text-anchor="middle" font-weight="bold" fill="#222" stroke="#222" stroke-width="0.1">N</text>
<line x1="228.67" y1="132.50" x2="224.27" y2="135.00" stroke="#1c1c1c" stroke-width="0.95" stroke-linecap="round"/>
<text x="223.07" y="139.3" font-size="6.0" text-anchor="end" font-weight="bold" fill="#222" stroke="#222" stroke-width="0.1">Cl</text>
<line x1="242.53" y1="124.50" x2="249.43" y2="120.50" stroke="#1c1c1c" stroke-width="0.95" stroke-linecap="round"/>
<line x1="248.83" y1="120.50" x2="248.83" y2="115.30" stroke="#1c1c1c" stroke-width="0.95" stroke-linecap="round"/>
<line x1="250.23" y1="120.50" x2="250.23" y2="115.30" stroke="#1c1c1c" stroke-width="0.95" stroke-linecap="round"/>
<text x="249.53" y="114.5" font-size="6.0" text-anchor="middle" font-weight="bold" fill="#d42a2a" stroke="#d42a2a" stroke-width="0.1">O</text>
<line x1="249.43" y1="120.50" x2="253.03" y2="122.70" stroke="#1c1c1c" stroke-width="0.95" stroke-linecap="round"/>
<text x="253.83" y="125.9" font-size="6.0" font-weight="bold" fill="#2ea52e" stroke="#2ea52e" stroke-width="0.1">Cl</text>
<text x="235.8" y="143.7" font-size="6.5" text-anchor="middle" font-weight="bold" fill="#2b8fd8" stroke="#2b8fd8" stroke-width="0.1">CNC</text>
</g>
<g id="pb">
<text x="345.4" y="18.2" font-size="13.3" font-weight="bold" fill="#000" stroke="#000" stroke-width="0.22">b</text>
<clipPath id="cb"><rect x="370.5" y="16.3" width="168.29999999999995" height="126.10000000000001"/></clipPath>
<g clip-path="url(#cb)">
<path d="M370.50,132.00 C370.92,131.77 371.92,130.97 373.00,130.60 C374.08,130.23 375.23,130.00 377.00,129.80 C378.77,129.60 381.10,129.50 383.60,129.40 C386.10,129.30 387.60,129.25 392.00,129.20 C396.40,129.15 402.00,129.15 410.00,129.10 C418.00,129.05 430.00,128.97 440.00,128.90 C450.00,128.83 460.00,128.82 470.00,128.70 C480.00,128.58 493.00,128.35 500.00,128.20 C507.00,128.05 508.00,128.02 512.00,127.80 C516.00,127.58 519.53,127.33 524.00,126.90 C528.47,126.47 536.33,125.48 538.80,125.20" fill="none" stroke="#f2a672" stroke-width="0.9" stroke-dasharray="1.6 2.2"/>
<path d="M370.50,132.00 C370.92,131.77 371.92,130.97 373.00,130.60 C374.08,130.23 375.23,130.02 377.00,129.80 C378.77,129.58 381.10,129.42 383.60,129.30 C386.10,129.18 388.93,129.15 392.00,129.10 C395.07,129.05 399.00,129.05 402.00,129.00 C405.00,128.95 407.67,128.93 410.00,128.80 C412.33,128.67 414.17,128.47 416.00,128.20 C417.83,127.93 419.17,127.63 421.00,127.20 C422.83,126.77 424.83,126.33 427.00,125.60 C429.17,124.87 431.55,123.82 434.00,122.80 C436.45,121.78 438.70,120.87 441.70,119.50 C444.70,118.13 448.62,116.25 452.00,114.60 C455.38,112.95 458.17,111.20 462.00,109.60 C465.83,108.00 471.17,106.60 475.00,105.00 C478.83,103.40 481.33,101.73 485.00,100.00 C488.67,98.27 492.83,96.40 497.00,94.60 C501.17,92.80 505.33,90.98 510.00,89.20 C514.67,87.42 520.20,85.57 525.00,83.90 C529.80,82.23 536.50,79.98 538.80,79.20" fill="none" stroke="#f2a672" stroke-width="0.9"/>
<path d="M370.50,131.20 C370.92,131.03 371.92,130.53 373.00,130.20 C374.08,129.87 375.23,129.53 377.00,129.20 C378.77,128.87 381.10,128.47 383.60,128.20 C386.10,127.93 388.85,127.82 392.00,127.60 C395.15,127.38 399.67,127.13 402.50,126.90 C405.33,126.67 406.83,126.53 409.00,126.20 C411.17,125.87 413.50,125.40 415.50,124.90 C417.50,124.40 419.05,123.88 421.00,123.20 C422.95,122.52 425.03,121.73 427.20,120.80 C429.37,119.87 431.58,118.77 434.00,117.60 C436.42,116.43 438.70,115.30 441.70,113.80 C444.70,112.30 448.12,110.47 452.00,108.60 C455.88,106.73 460.33,104.90 465.00,102.60 C469.67,100.30 474.67,97.70 480.00,94.80 C485.33,91.90 491.43,88.37 497.00,85.20 C502.57,82.03 508.57,78.57 513.40,75.80 C518.23,73.03 521.77,71.02 526.00,68.60 C530.23,66.18 536.67,62.52 538.80,61.30" fill="none" stroke="#2f6fb5" stroke-width="0.9" stroke-dasharray="2.2 1.6"/>
<path d="M370.50,131.20 C370.92,131.03 371.92,130.53 373.00,130.20 C374.08,129.87 375.23,129.53 377.00,129.20 C378.77,128.87 381.10,128.47 383.60,128.20 C386.10,127.93 388.85,127.83 392.00,127.60 C395.15,127.37 399.67,127.07 402.50,126.80 C405.33,126.53 406.83,126.40 409.00,126.00 C411.17,125.60 413.50,125.03 415.50,124.40 C417.50,123.77 419.05,123.07 421.00,122.20 C422.95,121.33 425.03,120.47 427.20,119.20 C429.37,117.93 431.58,116.32 434.00,114.60 C436.42,112.88 438.72,111.33 441.70,108.90 C444.68,106.47 448.52,103.38 451.90,100.00 C455.28,96.62 458.42,92.60 462.00,88.60 C465.58,84.60 468.73,81.35 473.40,76.00 C478.07,70.65 484.57,62.95 490.00,56.50 C495.43,50.05 500.42,44.00 506.00,37.30 C511.58,30.60 519.50,21.10 523.50,16.30 C527.50,11.50 528.92,9.80 530.00,8.50" fill="none" stroke="#2f6fb5" stroke-width="1.0"/>
</g>
<rect x="370.5" y="16.3" width="168.30" height="126.10" fill="none" stroke="#6e6e6e" stroke-width="1"/>
<line x1="367.50" y1="29.50" x2="370.50" y2="29.50" stroke="#6e6e6e" stroke-width="0.8"/>
<text x="365.9" y="32.2" font-size="7.9" text-anchor="end" fill="#1c1c1c" stroke="#1c1c1c" stroke-width="0.22">-15</text>
<line x1="367.50" y1="62.83" x2="370.50" y2="62.83" stroke="#6e6e6e" stroke-width="0.8"/>
<text x="365.9" y="65.53" font-size="7.9" text-anchor="end" fill="#1c1c1c" stroke="#1c1c1c" stroke-width="0.22">-10</text>
<line x1="367.50" y1="96.16" x2="370.50" y2="96.16" stroke="#6e6e6e" stroke-width="0.8"/>
<text x="365.9" y="98.86" font-size="7.9" text-anchor="end" fill="#1c1c1c" stroke="#1c1c1c" stroke-width="0.22">-5</text>
<line x1="367.50" y1="129.50" x2="370.50" y2="129.50" stroke="#6e6e6e" stroke-width="0.8"/>
<text x="365.9" y="132.2" font-size="7.9" text-anchor="end" fill="#1c1c1c" stroke="#1c1c1c" stroke-width="0.22">0</text>
<line x1="368.70" y1="46.16" x2="370.50" y2="46.16" stroke="#6e6e6e" stroke-width="0.7"/>
<line x1="368.70" y1="79.50" x2="370.50" y2="79.50" stroke="#6e6e6e" stroke-width="0.7"/>
<line x1="368.70" y1="112.83" x2="370.50" y2="112.83" stroke="#6e6e6e" stroke-width="0.7"/>
<line x1="370.38" y1="142.40" x2="370.38" y2="145.40" stroke="#6e6e6e" stroke-width="0.8"/>
<text x="370.38" y="153.8" font-size="7.9" text-anchor="middle" fill="#1c1c1c" stroke="#1c1c1c" stroke-width="0.22">0.2</text>
<line x1="398.45" y1="142.40" x2="398.45" y2="145.40" stroke="#6e6e6e" stroke-width="0.8"/>
<text x="398.45" y="153.8" font-size="7.9" text-anchor="middle" fill="#1c1c1c" stroke="#1c1c1c" stroke-width="0.22">0.0</text>
<line x1="426.52" y1="142.40" x2="426.52" y2="145.40" stroke="#6e6e6e" stroke-width="0.8"/>
<text x="426.52" y="153.8" font-size="7.9" text-anchor="middle" fill="#1c1c1c" stroke="#1c1c1c" stroke-width="0.22">-0.2</text>
<line x1="454.59" y1="142.40" x2="454.59" y2="145.40" stroke="#6e6e6e" stroke-width="0.8"/>
<text x="454.59" y="153.8" font-size="7.9" text-anchor="middle" fill="#1c1c1c" stroke="#1c1c1c" stroke-width="0.22">-0.4</text>
<line x1="482.66" y1="142.40" x2="482.66" y2="145.40" stroke="#6e6e6e" stroke-width="0.8"/>
<text x="482.66" y="153.8" font-size="7.9" text-anchor="middle" fill="#1c1c1c" stroke="#1c1c1c" stroke-width="0.22">-0.6</text>
<line x1="510.73" y1="142.40" x2="510.73" y2="145.40" stroke="#6e6e6e" stroke-width="0.8"/>
<text x="510.73" y="153.8" font-size="7.9" text-anchor="middle" fill="#1c1c1c" stroke="#1c1c1c" stroke-width="0.22">-0.8</text>
<line x1="538.80" y1="142.40" x2="538.80" y2="145.40" stroke="#6e6e6e" stroke-width="0.8"/>
<text x="538.8" y="153.8" font-size="7.9" text-anchor="middle" fill="#1c1c1c" stroke="#1c1c1c" stroke-width="0.22">-1.0</text>
<line x1="384.41" y1="142.40" x2="384.41" y2="144.20" stroke="#6e6e6e" stroke-width="0.7"/>
<line x1="412.49" y1="142.40" x2="412.49" y2="144.20" stroke="#6e6e6e" stroke-width="0.7"/>
<line x1="440.56" y1="142.40" x2="440.56" y2="144.20" stroke="#6e6e6e" stroke-width="0.7"/>
<line x1="468.62" y1="142.40" x2="468.62" y2="144.20" stroke="#6e6e6e" stroke-width="0.7"/>
<line x1="496.69" y1="142.40" x2="496.69" y2="144.20" stroke="#6e6e6e" stroke-width="0.7"/>
<line x1="524.76" y1="142.40" x2="524.76" y2="144.20" stroke="#6e6e6e" stroke-width="0.7"/>
<text x="454.6" y="170.2" font-size="8.6" text-anchor="middle" fill="#1c1c1c" stroke="#1c1c1c" stroke-width="0.22">E (V <tspan font-style="italic">vs</tspan> Ag/AgCl)</text>
<text x="352" y="79.4" font-size="8.6" text-anchor="middle" fill="#1c1c1c" stroke="#1c1c1c" stroke-width="0.22" transform="rotate(-90 352 79.4)">j (mA cm<tspan font-size="60%" dy="-2.6">-2</tspan><tspan dy="2.6">)</tspan></text>
<line x1="373.70" y1="23.80" x2="394.00" y2="23.80" stroke="#2f6fb5" stroke-width="0.9"/>
<text x="397" y="27.1" font-size="8.0" fill="#1c1c1c" stroke="#1c1c1c" stroke-width="0.22">with TCMP in O<tspan font-size="68%" dy="2.3">2</tspan></text>
<line x1="373.70" y1="36.60" x2="394.00" y2="36.60" stroke="#2f6fb5" stroke-width="0.9" stroke-dasharray="2.2 1.6"/>
<text x="397" y="39.9" font-size="8.0" fill="#1c1c1c" stroke="#1c1c1c" stroke-width="0.22">without TCMP in O<tspan font-size="68%" dy="2.3">2</tspan></text>
<line x1="373.70" y1="49.60" x2="394.00" y2="49.60" stroke="#f2a672" stroke-width="0.9"/>
<text x="397" y="52.9" font-size="8.0" fill="#1c1c1c" stroke="#1c1c1c" stroke-width="0.22">with TCMP in N<tspan font-size="68%" dy="2.3">2</tspan></text>
<line x1="373.70" y1="62.30" x2="394.00" y2="62.30" stroke="#f2a672" stroke-width="0.9" stroke-dasharray="1.6 2.2"/>
<text x="397" y="65.6" font-size="8.0" fill="#1c1c1c" stroke="#1c1c1c" stroke-width="0.22">without TCMP in N<tspan font-size="68%" dy="2.3">2</tspan></text>
</g>
<g id="pc">
<text x="574" y="17.8" font-size="13.3" font-weight="bold" fill="#000" stroke="#000" stroke-width="0.22">c</text>
<rect x="615.70" y="137.26" width="10.40" height="6.04" fill="url(#gCMP)"/>
<rect x="615.70" y="135.69" width="10.40" height="1.57" fill="url(#gCCMP)"/>
<rect x="615.70" y="130.02" width="10.40" height="5.68" fill="url(#gDCMP)"/>
<rect x="658.00" y="137.26" width="10.40" height="6.04" fill="url(#gDCMP)"/>
<rect x="658.00" y="135.09" width="10.40" height="2.17" fill="url(#gCNA)"/>
<rect x="658.00" y="24.12" width="10.40" height="110.97" fill="url(#gMCN)"/>
<rect x="700.30" y="142.09" width="10.40" height="1.21" fill="url(#gDCMP)"/>
<rect x="742.60" y="137.75" width="10.40" height="5.55" fill="url(#gDCMP)"/>
<rect x="742.60" y="113.11" width="10.40" height="24.63" fill="url(#gCNA)"/>
<line x1="620.90" y1="136.46" x2="620.90" y2="138.06" stroke="#111" stroke-width="0.8"/>
<line x1="620.00" y1="136.46" x2="621.80" y2="136.46" stroke="#111" stroke-width="0.6"/>
<line x1="620.00" y1="138.06" x2="621.80" y2="138.06" stroke="#111" stroke-width="0.6"/>
<line x1="620.90" y1="139.46" x2="620.90" y2="140.86" stroke="#111" stroke-width="0.8"/>
<line x1="620.00" y1="139.46" x2="621.80" y2="139.46" stroke="#111" stroke-width="0.6"/>
<line x1="620.00" y1="140.86" x2="621.80" y2="140.86" stroke="#111" stroke-width="0.6"/>
<line x1="663.20" y1="132.64" x2="663.20" y2="135.84" stroke="#111" stroke-width="0.8"/>
<line x1="662.30" y1="132.64" x2="664.10" y2="132.64" stroke="#111" stroke-width="0.6"/>
<line x1="662.30" y1="135.84" x2="664.10" y2="135.84" stroke="#111" stroke-width="0.6"/>
<line x1="663.20" y1="136.85" x2="663.20" y2="138.65" stroke="#111" stroke-width="0.8"/>
<line x1="662.30" y1="136.85" x2="664.10" y2="136.85" stroke="#111" stroke-width="0.6"/>
<line x1="662.30" y1="138.65" x2="664.10" y2="138.65" stroke="#111" stroke-width="0.6"/>
<line x1="747.80" y1="137.23" x2="747.80" y2="139.23" stroke="#111" stroke-width="0.8"/>
<line x1="746.90" y1="137.23" x2="748.70" y2="137.23" stroke="#111" stroke-width="0.6"/>
<line x1="746.90" y1="139.23" x2="748.70" y2="139.23" stroke="#111" stroke-width="0.6"/>
<rect x="599.8" y="16.7" width="169.10" height="126.60" fill="none" stroke="#6e6e6e" stroke-width="1"/>
<line x1="596.80" y1="143.30" x2="599.80" y2="143.30" stroke="#6e6e6e" stroke-width="0.8"/>
<line x1="768.90" y1="143.30" x2="771.90" y2="143.30" stroke="#6e6e6e" stroke-width="0.8"/>
<text x="595.6" y="146.0" font-size="7.9" text-anchor="end" fill="#1c1c1c" stroke="#1c1c1c" stroke-width="0.22">0</text>
<text x="773.5" y="146.0" font-size="7.9" fill="#444" stroke="#444" stroke-width="0.22">0</text>
<line x1="596.80" y1="119.15" x2="599.80" y2="119.15" stroke="#6e6e6e" stroke-width="0.8"/>
<line x1="768.90" y1="119.15" x2="771.90" y2="119.15" stroke="#6e6e6e" stroke-width="0.8"/>
<text x="595.6" y="121.85" font-size="7.9" text-anchor="end" fill="#1c1c1c" stroke="#1c1c1c" stroke-width="0.22">20</text>
<text x="773.5" y="121.85" font-size="7.9" fill="#444" stroke="#444" stroke-width="0.22">20</text>
<line x1="596.80" y1="95.00" x2="599.80" y2="95.00" stroke="#6e6e6e" stroke-width="0.8"/>
<line x1="768.90" y1="95.00" x2="771.90" y2="95.00" stroke="#6e6e6e" stroke-width="0.8"/>
<text x="595.6" y="97.7" font-size="7.9" text-anchor="end" fill="#1c1c1c" stroke="#1c1c1c" stroke-width="0.22">40</text>
<text x="773.5" y="97.7" font-size="7.9" fill="#444" stroke="#444" stroke-width="0.22">40</text>
<line x1="596.80" y1="70.85" x2="599.80" y2="70.85" stroke="#6e6e6e" stroke-width="0.8"/>
<line x1="768.90" y1="70.85" x2="771.90" y2="70.85" stroke="#6e6e6e" stroke-width="0.8"/>
<text x="595.6" y="73.55" font-size="7.9" text-anchor="end" fill="#1c1c1c" stroke="#1c1c1c" stroke-width="0.22">60</text>
<text x="773.5" y="73.55" font-size="7.9" fill="#444" stroke="#444" stroke-width="0.22">60</text>
<line x1="596.80" y1="46.70" x2="599.80" y2="46.70" stroke="#6e6e6e" stroke-width="0.8"/>
<line x1="768.90" y1="46.70" x2="771.90" y2="46.70" stroke="#6e6e6e" stroke-width="0.8"/>
<text x="595.6" y="49.4" font-size="7.9" text-anchor="end" fill="#1c1c1c" stroke="#1c1c1c" stroke-width="0.22">80</text>
<text x="773.5" y="49.4" font-size="7.9" fill="#444" stroke="#444" stroke-width="0.22">80</text>
<line x1="596.80" y1="22.55" x2="599.80" y2="22.55" stroke="#6e6e6e" stroke-width="0.8"/>
<line x1="768.90" y1="22.55" x2="771.90" y2="22.55" stroke="#6e6e6e" stroke-width="0.8"/>
<text x="595.6" y="25.25" font-size="7.9" text-anchor="end" fill="#1c1c1c" stroke="#1c1c1c" stroke-width="0.22">100</text>
<text x="773.5" y="25.25" font-size="7.9" fill="#444" stroke="#444" stroke-width="0.22">100</text>
<line x1="598.00" y1="131.23" x2="599.80" y2="131.23" stroke="#6e6e6e" stroke-width="0.7"/>
<line x1="768.90" y1="131.23" x2="770.70" y2="131.23" stroke="#6e6e6e" stroke-width="0.7"/>
<line x1="598.00" y1="107.08" x2="599.80" y2="107.08" stroke="#6e6e6e" stroke-width="0.7"/>
<line x1="768.90" y1="107.08" x2="770.70" y2="107.08" stroke="#6e6e6e" stroke-width="0.7"/>
<line x1="598.00" y1="82.93" x2="599.80" y2="82.93" stroke="#6e6e6e" stroke-width="0.7"/>
<line x1="768.90" y1="82.93" x2="770.70" y2="82.93" stroke="#6e6e6e" stroke-width="0.7"/>
<line x1="598.00" y1="58.78" x2="599.80" y2="58.78" stroke="#6e6e6e" stroke-width="0.7"/>
<line x1="768.90" y1="58.78" x2="770.70" y2="58.78" stroke="#6e6e6e" stroke-width="0.7"/>
<line x1="598.00" y1="34.63" x2="599.80" y2="34.63" stroke="#6e6e6e" stroke-width="0.7"/>
<line x1="768.90" y1="34.63" x2="770.70" y2="34.63" stroke="#6e6e6e" stroke-width="0.7"/>
<line x1="620.90" y1="143.30" x2="620.90" y2="146.30" stroke="#6e6e6e" stroke-width="0.8"/>
<line x1="663.20" y1="143.30" x2="663.20" y2="146.30" stroke="#6e6e6e" stroke-width="0.8"/>
<line x1="705.50" y1="143.30" x2="705.50" y2="146.30" stroke="#6e6e6e" stroke-width="0.8"/>
<line x1="747.80" y1="143.30" x2="747.80" y2="146.30" stroke="#6e6e6e" stroke-width="0.8"/>
<line x1="642.05" y1="143.30" x2="642.05" y2="145.10" stroke="#6e6e6e" stroke-width="0.7"/>
<line x1="684.35" y1="143.30" x2="684.35" y2="145.10" stroke="#6e6e6e" stroke-width="0.7"/>
<line x1="726.65" y1="143.30" x2="726.65" y2="145.10" stroke="#6e6e6e" stroke-width="0.7"/>
<circle cx="620.90" cy="129.66" r="2.2" fill="url(#sph)"/>
<circle cx="663.20" cy="23.40" r="2.2" fill="url(#sph)"/>
<circle cx="705.50" cy="141.61" r="2.2" fill="url(#sph)"/>
<circle cx="747.80" cy="112.75" r="2.2" fill="url(#sph)"/>
<text x="620.9" y="152.9" font-size="7.9" text-anchor="middle" fill="#1c1c1c" stroke="#1c1c1c" stroke-width="0.22">CH<tspan font-size="68%" dy="2.3">3</tspan><tspan dy="-2.3">OH</tspan></text>
<text x="620.9" y="162.6" font-size="7.9" text-anchor="middle" fill="#1c1c1c" stroke="#1c1c1c" stroke-width="0.22">N<tspan font-size="68%" dy="2.3">2</tspan></text>
<text x="663.2" y="152.9" font-size="7.9" text-anchor="middle" fill="#1c1c1c" stroke="#1c1c1c" stroke-width="0.22">CH<tspan font-size="68%" dy="2.3">3</tspan><tspan dy="-2.3">OH</tspan></text>
<text x="663.2" y="162.6" font-size="7.9" text-anchor="middle" fill="#1c1c1c" stroke="#1c1c1c" stroke-width="0.22">O<tspan font-size="68%" dy="2.3">2</tspan></text>
<text x="705.5" y="152.9" font-size="7.9" text-anchor="middle" fill="#1c1c1c" stroke="#1c1c1c" stroke-width="0.22">CH<tspan font-size="68%" dy="2.3">3</tspan><tspan dy="-2.3">CN</tspan></text>
<text x="705.5" y="162.6" font-size="7.9" text-anchor="middle" fill="#1c1c1c" stroke="#1c1c1c" stroke-width="0.22">N<tspan font-size="68%" dy="2.3">2</tspan></text>
<text x="747.8" y="152.9" font-size="7.9" text-anchor="middle" fill="#1c1c1c" stroke="#1c1c1c" stroke-width="0.22">CH<tspan font-size="68%" dy="2.3">3</tspan><tspan dy="-2.3">CN</tspan></text>
<text x="747.8" y="162.6" font-size="7.9" text-anchor="middle" fill="#1c1c1c" stroke="#1c1c1c" stroke-width="0.22">O<tspan font-size="68%" dy="2.3">2</tspan></text>
<text x="579.2" y="80" font-size="8.6" text-anchor="middle" fill="#1c1c1c" stroke="#1c1c1c" stroke-width="0.22" transform="rotate(-90 579.2 80)">Yield (%)</text>
<text x="800.2" y="80" font-size="8.6" text-anchor="middle" fill="#555" stroke="#555" stroke-width="0.22" transform="rotate(-90 800.2 80)">Con. (%)</text>
<rect x="602.30" y="19.30" width="17.50" height="8.30" fill="url(#vMCN)"/>
<text x="622.3" y="26.2" font-size="7.9" fill="#1c1c1c" stroke="#1c1c1c" stroke-width="0.22">MCN</text>
<rect x="602.30" y="29.00" width="17.50" height="8.40" fill="url(#vCNA)"/>
<text x="622.3" y="35.9" font-size="7.9" fill="#1c1c1c" stroke="#1c1c1c" stroke-width="0.22">CNA</text>
<rect x="602.30" y="38.80" width="17.50" height="8.30" fill="url(#vDCMP)"/>
<text x="622.3" y="45.6" font-size="7.9" fill="#1c1c1c" stroke="#1c1c1c" stroke-width="0.22">DCMP</text>
<rect x="602.30" y="48.60" width="17.50" height="8.20" fill="url(#vCCMP)"/>
<text x="622.3" y="55.4" font-size="7.9" fill="#1c1c1c" stroke="#1c1c1c" stroke-width="0.22">CCMP</text>
<rect x="602.30" y="58.20" width="17.50" height="8.30" fill="url(#vCMP)"/>
<text x="622.3" y="64.9" font-size="7.9" fill="#1c1c1c" stroke="#1c1c1c" stroke-width="0.22">CMP</text>
</g>
<g id="pd">
<text x="16.4" y="190.9" font-size="13.3" font-weight="bold" fill="#000" stroke="#000" stroke-width="0.22">d</text>
<rect x="54.50" y="318.14" width="10.80" height="0.36" fill="url(#gDCMP)"/>
<rect x="67.90" y="318.14" width="10.80" height="0.36" fill="url(#hatB)"/>
<rect x="67.90" y="318.14" width="10.80" height="0.36" fill="url(#shB)"/>
<rect x="84.92" y="317.78" width="10.80" height="0.72" fill="url(#gDCMP)"/>
<rect x="98.32" y="285.86" width="10.80" height="32.64" fill="url(#hatB)"/>
<rect x="98.32" y="285.86" width="10.80" height="32.64" fill="url(#shB)"/>
<rect x="115.34" y="316.10" width="10.80" height="2.40" fill="url(#gDCMP)"/>
<rect x="128.74" y="228.02" width="10.80" height="88.08" fill="url(#hatB)"/>
<rect x="128.74" y="228.02" width="10.80" height="88.08" fill="url(#shB)"/>
<rect x="128.74" y="316.10" width="10.80" height="2.40" fill="url(#hatG)"/>
<line x1="134.14" y1="315.62" x2="134.14" y2="318.02" stroke="#111" stroke-width="0.8"/>
<line x1="133.24" y1="315.62" x2="135.04" y2="315.62" stroke="#111" stroke-width="0.6"/>
<line x1="133.24" y1="318.02" x2="135.04" y2="318.02" stroke="#111" stroke-width="0.6"/>
<rect x="145.76" y="313.94" width="10.80" height="4.56" fill="url(#gCMP)"/>
<rect x="145.76" y="312.50" width="10.80" height="1.44" fill="url(#gCCMP)"/>
<rect x="145.76" y="305.54" width="10.80" height="6.96" fill="url(#gDCMP)"/>
<rect x="159.16" y="204.74" width="10.80" height="111.36" fill="url(#hatB)"/>
<rect x="159.16" y="204.74" width="10.80" height="111.36" fill="url(#shB)"/>
<rect x="159.16" y="316.10" width="10.80" height="2.40" fill="url(#hatG)"/>
<line x1="151.16" y1="312.74" x2="151.16" y2="315.14" stroke="#111" stroke-width="0.8"/>
<line x1="150.26" y1="312.74" x2="152.06" y2="312.74" stroke="#111" stroke-width="0.6"/>
<line x1="150.26" y1="315.14" x2="152.06" y2="315.14" stroke="#111" stroke-width="0.6"/>
<line x1="164.56" y1="315.62" x2="164.56" y2="318.02" stroke="#111" stroke-width="0.8"/>
<line x1="163.66" y1="315.62" x2="165.46" y2="315.62" stroke="#111" stroke-width="0.6"/>
<line x1="163.66" y1="318.02" x2="165.46" y2="318.02" stroke="#111" stroke-width="0.6"/>
<rect x="176.18" y="310.10" width="10.80" height="8.40" fill="url(#gCMP)"/>
<rect x="176.18" y="305.90" width="10.80" height="4.20" fill="url(#gCCMP)"/>
<rect x="176.18" y="298.10" width="10.80" height="7.80" fill="url(#gDCMP)"/>
<rect x="189.58" y="206.66" width="10.80" height="107.04" fill="url(#hatB)"/>
<rect x="189.58" y="206.66" width="10.80" height="107.04" fill="url(#shB)"/>
<rect x="189.58" y="313.70" width="10.80" height="4.80" fill="url(#hatG)"/>
<line x1="181.58" y1="308.90" x2="181.58" y2="311.30" stroke="#111" stroke-width="0.8"/>
<line x1="180.68" y1="308.90" x2="182.48" y2="308.90" stroke="#111" stroke-width="0.6"/>
<line x1="180.68" y1="311.30" x2="182.48" y2="311.30" stroke="#111" stroke-width="0.6"/>
<line x1="181.58" y1="305.10" x2="181.58" y2="306.70" stroke="#111" stroke-width="0.8"/>
<line x1="180.68" y1="305.10" x2="182.48" y2="305.10" stroke="#111" stroke-width="0.6"/>
<line x1="180.68" y1="306.70" x2="182.48" y2="306.70" stroke="#111" stroke-width="0.6"/>
<line x1="194.98" y1="313.22" x2="194.98" y2="315.62" stroke="#111" stroke-width="0.8"/>
<line x1="194.08" y1="313.22" x2="195.88" y2="313.22" stroke="#111" stroke-width="0.6"/>
<line x1="194.08" y1="315.62" x2="195.88" y2="315.62" stroke="#111" stroke-width="0.6"/>
<rect x="206.60" y="303.98" width="10.80" height="14.52" fill="url(#gCMP)"/>
<rect x="206.60" y="291.38" width="10.80" height="12.60" fill="url(#gCCMP)"/>
<rect x="206.60" y="277.46" width="10.80" height="13.92" fill="url(#gDCMP)"/>
<rect x="220.00" y="206.18" width="10.80" height="106.92" fill="url(#hatB)"/>
<rect x="220.00" y="206.18" width="10.80" height="106.92" fill="url(#shB)"/>
<rect x="220.00" y="313.10" width="10.80" height="5.40" fill="url(#hatG)"/>
<line x1="212.00" y1="302.78" x2="212.00" y2="305.18" stroke="#111" stroke-width="0.8"/>
<line x1="211.10" y1="302.78" x2="212.90" y2="302.78" stroke="#111" stroke-width="0.6"/>
<line x1="211.10" y1="305.18" x2="212.90" y2="305.18" stroke="#111" stroke-width="0.6"/>
<line x1="212.00" y1="290.58" x2="212.00" y2="292.18" stroke="#111" stroke-width="0.8"/>
<line x1="211.10" y1="290.58" x2="212.90" y2="290.58" stroke="#111" stroke-width="0.6"/>
<line x1="211.10" y1="292.18" x2="212.90" y2="292.18" stroke="#111" stroke-width="0.6"/>
<line x1="225.40" y1="312.62" x2="225.40" y2="315.02" stroke="#111" stroke-width="0.8"/>
<line x1="224.50" y1="312.62" x2="226.30" y2="312.62" stroke="#111" stroke-width="0.6"/>
<line x1="224.50" y1="315.02" x2="226.30" y2="315.02" stroke="#111" stroke-width="0.6"/>
<rect x="237.02" y="300.02" width="10.80" height="18.48" fill="url(#gCMP)"/>
<rect x="237.02" y="284.06" width="10.80" height="15.96" fill="url(#gCCMP)"/>
<rect x="237.02" y="266.90" width="10.80" height="17.16" fill="url(#gDCMP)"/>
<rect x="250.42" y="206.18" width="10.80" height="106.92" fill="url(#hatB)"/>
<rect x="250.42" y="206.18" width="10.80" height="106.92" fill="url(#shB)"/>
<rect x="250.42" y="313.10" width="10.80" height="5.40" fill="url(#hatG)"/>
<line x1="242.42" y1="298.82" x2="242.42" y2="301.22" stroke="#111" stroke-width="0.8"/>
<line x1="241.52" y1="298.82" x2="243.32" y2="298.82" stroke="#111" stroke-width="0.6"/>
<line x1="241.52" y1="301.22" x2="243.32" y2="301.22" stroke="#111" stroke-width="0.6"/>
<line x1="242.42" y1="283.26" x2="242.42" y2="284.86" stroke="#111" stroke-width="0.8"/>
<line x1="241.52" y1="283.26" x2="243.32" y2="283.26" stroke="#111" stroke-width="0.6"/>
<line x1="241.52" y1="284.86" x2="243.32" y2="284.86" stroke="#111" stroke-width="0.6"/>
<line x1="255.82" y1="312.62" x2="255.82" y2="315.02" stroke="#111" stroke-width="0.8"/>
<line x1="254.92" y1="312.62" x2="256.72" y2="312.62" stroke="#111" stroke-width="0.6"/>
<line x1="254.92" y1="315.02" x2="256.72" y2="315.02" stroke="#111" stroke-width="0.6"/>
<rect x="267.44" y="290.42" width="10.80" height="28.08" fill="url(#gCMP)"/>
<rect x="267.44" y="273.02" width="10.80" height="17.40" fill="url(#gCCMP)"/>
<rect x="267.44" y="260.06" width="10.80" height="12.96" fill="url(#gDCMP)"/>
<rect x="280.84" y="204.98" width="10.80" height="108.12" fill="url(#hatB)"/>
<rect x="280.84" y="204.98" width="10.80" height="108.12" fill="url(#shB)"/>
<rect x="280.84" y="313.10" width="10.80" height="5.40" fill="url(#hatG)"/>
<line x1="272.84" y1="289.22" x2="272.84" y2="291.62" stroke="#111" stroke-width="0.8"/>
<line x1="271.94" y1="289.22" x2="273.74" y2="289.22" stroke="#111" stroke-width="0.6"/>
<line x1="271.94" y1="291.62" x2="273.74" y2="291.62" stroke="#111" stroke-width="0.6"/>
<line x1="272.84" y1="272.22" x2="272.84" y2="273.82" stroke="#111" stroke-width="0.8"/>
<line x1="271.94" y1="272.22" x2="273.74" y2="272.22" stroke="#111" stroke-width="0.6"/>
<line x1="271.94" y1="273.82" x2="273.74" y2="273.82" stroke="#111" stroke-width="0.6"/>
<line x1="286.24" y1="312.62" x2="286.24" y2="315.02" stroke="#111" stroke-width="0.8"/>
<line x1="285.34" y1="312.62" x2="287.14" y2="312.62" stroke="#111" stroke-width="0.6"/>
<line x1="285.34" y1="315.02" x2="287.14" y2="315.02" stroke="#111" stroke-width="0.6"/>
<line x1="225.40" y1="200.30" x2="225.40" y2="206.30" stroke="#111" stroke-width="0.8"/>
<line x1="224.50" y1="200.30" x2="226.30" y2="200.30" stroke="#111" stroke-width="0.6"/>
<line x1="224.50" y1="206.30" x2="226.30" y2="206.30" stroke="#111" stroke-width="0.6"/>
<line x1="255.82" y1="203.94" x2="255.82" y2="206.74" stroke="#111" stroke-width="0.8"/>
<line x1="254.92" y1="203.94" x2="256.72" y2="203.94" stroke="#111" stroke-width="0.6"/>
<line x1="254.92" y1="206.74" x2="256.72" y2="206.74" stroke="#111" stroke-width="0.6"/>
<line x1="286.24" y1="202.54" x2="286.24" y2="205.74" stroke="#111" stroke-width="0.8"/>
<line x1="285.34" y1="202.54" x2="287.14" y2="202.54" stroke="#111" stroke-width="0.6"/>
<line x1="285.34" y1="205.74" x2="287.14" y2="205.74" stroke="#111" stroke-width="0.6"/>
<line x1="194.98" y1="205.38" x2="194.98" y2="206.98" stroke="#111" stroke-width="0.8"/>
<line x1="194.08" y1="205.38" x2="195.88" y2="205.38" stroke="#111" stroke-width="0.6"/>
<line x1="194.08" y1="206.98" x2="195.88" y2="206.98" stroke="#111" stroke-width="0.6"/>
<rect x="51.6" y="192.6" width="243.90" height="125.90" fill="none" stroke="#6e6e6e" stroke-width="1"/>
<line x1="48.60" y1="318.50" x2="51.60" y2="318.50" stroke="#6e6e6e" stroke-width="0.8"/>
<line x1="295.50" y1="318.50" x2="298.50" y2="318.50" stroke="#6e6e6e" stroke-width="0.8"/>
<text x="47.4" y="321.2" font-size="7.9" text-anchor="end" fill="#1c1c1c" stroke="#1c1c1c" stroke-width="0.22">0</text>
<text x="300.3" y="321.2" font-size="7.9" fill="#444" stroke="#444" stroke-width="0.22">0</text>
<line x1="48.60" y1="294.50" x2="51.60" y2="294.50" stroke="#6e6e6e" stroke-width="0.8"/>
<line x1="295.50" y1="294.50" x2="298.50" y2="294.50" stroke="#6e6e6e" stroke-width="0.8"/>
<text x="47.4" y="297.2" font-size="7.9" text-anchor="end" fill="#1c1c1c" stroke="#1c1c1c" stroke-width="0.22">20</text>
<text x="300.3" y="297.2" font-size="7.9" fill="#444" stroke="#444" stroke-width="0.22">20</text>
<line x1="48.60" y1="270.50" x2="51.60" y2="270.50" stroke="#6e6e6e" stroke-width="0.8"/>
<line x1="295.50" y1="270.50" x2="298.50" y2="270.50" stroke="#6e6e6e" stroke-width="0.8"/>
<text x="47.4" y="273.2" font-size="7.9" text-anchor="end" fill="#1c1c1c" stroke="#1c1c1c" stroke-width="0.22">40</text>
<text x="300.3" y="273.2" font-size="7.9" fill="#444" stroke="#444" stroke-width="0.22">40</text>
<line x1="48.60" y1="246.50" x2="51.60" y2="246.50" stroke="#6e6e6e" stroke-width="0.8"/>
<line x1="295.50" y1="246.50" x2="298.50" y2="246.50" stroke="#6e6e6e" stroke-width="0.8"/>
<text x="47.4" y="249.2" font-size="7.9" text-anchor="end" fill="#1c1c1c" stroke="#1c1c1c" stroke-width="0.22">60</text>
<text x="300.3" y="249.2" font-size="7.9" fill="#444" stroke="#444" stroke-width="0.22">60</text>
<line x1="48.60" y1="222.50" x2="51.60" y2="222.50" stroke="#6e6e6e" stroke-width="0.8"/>
<line x1="295.50" y1="222.50" x2="298.50" y2="222.50" stroke="#6e6e6e" stroke-width="0.8"/>
<text x="47.4" y="225.2" font-size="7.9" text-anchor="end" fill="#1c1c1c" stroke="#1c1c1c" stroke-width="0.22">80</text>
<text x="300.3" y="225.2" font-size="7.9" fill="#444" stroke="#444" stroke-width="0.22">80</text>
<line x1="48.60" y1="198.50" x2="51.60" y2="198.50" stroke="#6e6e6e" stroke-width="0.8"/>
<line x1="295.50" y1="198.50" x2="298.50" y2="198.50" stroke="#6e6e6e" stroke-width="0.8"/>
<text x="47.4" y="201.2" font-size="7.9" text-anchor="end" fill="#1c1c1c" stroke="#1c1c1c" stroke-width="0.22">100</text>
<text x="300.3" y="201.2" font-size="7.9" fill="#444" stroke="#444" stroke-width="0.22">100</text>
<line x1="49.80" y1="306.50" x2="51.60" y2="306.50" stroke="#6e6e6e" stroke-width="0.7"/>
<line x1="295.50" y1="306.50" x2="297.30" y2="306.50" stroke="#6e6e6e" stroke-width="0.7"/>
<line x1="49.80" y1="282.50" x2="51.60" y2="282.50" stroke="#6e6e6e" stroke-width="0.7"/>
<line x1="295.50" y1="282.50" x2="297.30" y2="282.50" stroke="#6e6e6e" stroke-width="0.7"/>
<line x1="49.80" y1="258.50" x2="51.60" y2="258.50" stroke="#6e6e6e" stroke-width="0.7"/>
<line x1="295.50" y1="258.50" x2="297.30" y2="258.50" stroke="#6e6e6e" stroke-width="0.7"/>
<line x1="49.80" y1="234.50" x2="51.60" y2="234.50" stroke="#6e6e6e" stroke-width="0.7"/>
<line x1="295.50" y1="234.50" x2="297.30" y2="234.50" stroke="#6e6e6e" stroke-width="0.7"/>
<line x1="49.80" y1="210.50" x2="51.60" y2="210.50" stroke="#6e6e6e" stroke-width="0.7"/>
<line x1="295.50" y1="210.50" x2="297.30" y2="210.50" stroke="#6e6e6e" stroke-width="0.7"/>
<line x1="66.50" y1="318.50" x2="66.50" y2="321.50" stroke="#6e6e6e" stroke-width="0.8"/>
<text x="66.5" y="329.5" font-size="7.9" text-anchor="middle" fill="#1c1c1c" stroke="#1c1c1c" stroke-width="0.22">0.0</text>
<line x1="81.71" y1="318.50" x2="81.71" y2="320.30" stroke="#6e6e6e" stroke-width="0.7"/>
<line x1="96.92" y1="318.50" x2="96.92" y2="321.50" stroke="#6e6e6e" stroke-width="0.8"/>
<text x="96.92" y="329.5" font-size="7.9" text-anchor="middle" fill="#1c1c1c" stroke="#1c1c1c" stroke-width="0.22">-0.2</text>
<line x1="112.13" y1="318.50" x2="112.13" y2="320.30" stroke="#6e6e6e" stroke-width="0.7"/>
<line x1="127.34" y1="318.50" x2="127.34" y2="321.50" stroke="#6e6e6e" stroke-width="0.8"/>
<text x="127.34" y="329.5" font-size="7.9" text-anchor="middle" fill="#1c1c1c" stroke="#1c1c1c" stroke-width="0.22">-0.4</text>
<line x1="142.55" y1="318.50" x2="142.55" y2="320.30" stroke="#6e6e6e" stroke-width="0.7"/>
<line x1="157.76" y1="318.50" x2="157.76" y2="321.50" stroke="#6e6e6e" stroke-width="0.8"/>
<text x="157.76" y="329.5" font-size="7.9" text-anchor="middle" fill="#1c1c1c" stroke="#1c1c1c" stroke-width="0.22">-0.6</text>
<line x1="172.97" y1="318.50" x2="172.97" y2="320.30" stroke="#6e6e6e" stroke-width="0.7"/>
<line x1="188.18" y1="318.50" x2="188.18" y2="321.50" stroke="#6e6e6e" stroke-width="0.8"/>
<text x="188.18" y="329.5" font-size="7.9" text-anchor="middle" fill="#1c1c1c" stroke="#1c1c1c" stroke-width="0.22">-0.8</text>
<line x1="203.39" y1="318.50" x2="203.39" y2="320.30" stroke="#6e6e6e" stroke-width="0.7"/>
<line x1="218.60" y1="318.50" x2="218.60" y2="321.50" stroke="#6e6e6e" stroke-width="0.8"/>
<text x="218.6" y="329.5" font-size="7.9" text-anchor="middle" fill="#1c1c1c" stroke="#1c1c1c" stroke-width="0.22">-1.0</text>
<line x1="233.81" y1="318.50" x2="233.81" y2="320.30" stroke="#6e6e6e" stroke-width="0.7"/>
<line x1="249.02" y1="318.50" x2="249.02" y2="321.50" stroke="#6e6e6e" stroke-width="0.8"/>
<text x="249.02" y="329.5" font-size="7.9" text-anchor="middle" fill="#1c1c1c" stroke="#1c1c1c" stroke-width="0.22">-1.2</text>
<line x1="264.23" y1="318.50" x2="264.23" y2="320.30" stroke="#6e6e6e" stroke-width="0.7"/>
<line x1="279.44" y1="318.50" x2="279.44" y2="321.50" stroke="#6e6e6e" stroke-width="0.8"/>
<text x="279.44" y="329.5" font-size="7.9" text-anchor="middle" fill="#1c1c1c" stroke="#1c1c1c" stroke-width="0.22">-1.4</text>
<circle cx="59.90" cy="317.78" r="2.3" fill="url(#sph)"/>
<circle cx="73.30" cy="317.54" r="2.3" fill="url(#sph)"/>
<circle cx="90.32" cy="317.42" r="2.3" fill="url(#sph)"/>
<circle cx="103.72" cy="285.38" r="2.3" fill="url(#sph)"/>
<circle cx="120.74" cy="315.38" r="2.3" fill="url(#sph)"/>
<circle cx="134.14" cy="226.58" r="2.3" fill="url(#sph)"/>
<circle cx="151.16" cy="305.30" r="2.3" fill="url(#sph)"/>
<circle cx="164.56" cy="198.98" r="2.3" fill="url(#sph)"/>
<circle cx="181.58" cy="297.62" r="2.3" fill="url(#sph)"/>
<circle cx="194.98" cy="201.74" r="2.3" fill="url(#sph)"/>
<circle cx="212.00" cy="276.98" r="2.3" fill="url(#sph)"/>
<circle cx="225.40" cy="199.70" r="2.3" fill="url(#sph)"/>
<circle cx="242.42" cy="266.42" r="2.3" fill="url(#sph)"/>
<circle cx="255.82" cy="198.98" r="2.3" fill="url(#sph)"/>
<circle cx="272.84" cy="259.58" r="2.3" fill="url(#sph)"/>
<circle cx="286.24" cy="199.34" r="2.3" fill="url(#sph)"/>
<text x="173.5" y="346.2" font-size="8.6" text-anchor="middle" fill="#1c1c1c" stroke="#1c1c1c" stroke-width="0.22">E (V <tspan font-style="italic">vs</tspan> Ag/AgCl)</text>
<text x="30.2" y="255.5" font-size="8.6" text-anchor="middle" fill="#1c1c1c" stroke="#1c1c1c" stroke-width="0.22" transform="rotate(-90 30.2 255.5)">Yield (%)</text>
<text x="324" y="255.5" font-size="8.6" text-anchor="middle" fill="#555" stroke="#555" stroke-width="0.22" transform="rotate(-90 324 255.5)">Con. (%)</text>
<rect x="56.20" y="197.10" width="17.20" height="7.70" fill="url(#vMCN)"/>
<text x="75.8" y="203.6" font-size="7.9" fill="#1c1c1c" stroke="#1c1c1c" stroke-width="0.22">MCN</text>
<rect x="56.20" y="206.20" width="17.20" height="8.40" fill="url(#vCNA)"/>
<text x="75.8" y="213.2" font-size="7.9" fill="#1c1c1c" stroke="#1c1c1c" stroke-width="0.22">CNA</text>
<rect x="56.20" y="216.00" width="17.20" height="8.30" fill="url(#vDCMP)"/>
<text x="75.8" y="222.9" font-size="7.9" fill="#1c1c1c" stroke="#1c1c1c" stroke-width="0.22">DCMP</text>
<rect x="56.20" y="226.10" width="17.20" height="7.80" fill="url(#vCCMP)"/>
<text x="75.8" y="232.6" font-size="7.9" fill="#1c1c1c" stroke="#1c1c1c" stroke-width="0.22">CCMP</text>
<rect x="56.20" y="235.90" width="17.20" height="7.70" fill="url(#vCMP)"/>
<text x="75.8" y="242.3" font-size="7.9" fill="#1c1c1c" stroke="#1c1c1c" stroke-width="0.22">CMP</text>
<rect x="56.20" y="197.10" width="17.20" height="7.70" fill="url(#hatB)" opacity="0.55"/>
<rect x="56.20" y="206.20" width="17.20" height="8.40" fill="url(#hatG)" opacity="0.5"/>
</g>
<g id="pe">
<text x="347.8" y="190.8" font-size="13.3" font-weight="bold" fill="#000" stroke="#000" stroke-width="0.22">e</text>
<polygon points="400.90,192.60 542.90,192.60 542.90,261.10 401.10,261.10" fill="#ffffff" stroke="none" stroke-width="1"/>
<polygon points="355.90,322.30 355.40,254.80 400.90,192.60 401.10,261.10" fill="#ffffff" stroke="none" stroke-width="1"/>
<line x1="421.36" y1="192.60" x2="421.36" y2="261.10" stroke="#eeeeee" stroke-width="0.6"/>
<line x1="441.62" y1="192.60" x2="441.62" y2="261.10" stroke="#eeeeee" stroke-width="0.6"/>
<line x1="461.88" y1="192.60" x2="461.88" y2="261.10" stroke="#eeeeee" stroke-width="0.6"/>
<line x1="482.14" y1="192.60" x2="482.14" y2="261.10" stroke="#eeeeee" stroke-width="0.6"/>
<line x1="502.40" y1="192.60" x2="502.40" y2="261.10" stroke="#eeeeee" stroke-width="0.6"/>
<line x1="522.66" y1="192.60" x2="522.66" y2="261.10" stroke="#eeeeee" stroke-width="0.6"/>
<line x1="401.10" y1="258.30" x2="542.90" y2="258.30" stroke="#eeeeee" stroke-width="0.6"/>
<line x1="355.90" y1="319.50" x2="401.10" y2="258.30" stroke="#eeeeee" stroke-width="0.6"/>
<line x1="401.10" y1="244.70" x2="542.90" y2="244.70" stroke="#eeeeee" stroke-width="0.6"/>
<line x1="355.90" y1="305.90" x2="401.10" y2="244.70" stroke="#eeeeee" stroke-width="0.6"/>
<line x1="401.10" y1="231.10" x2="542.90" y2="231.10" stroke="#eeeeee" stroke-width="0.6"/>
<line x1="355.90" y1="292.30" x2="401.10" y2="231.10" stroke="#eeeeee" stroke-width="0.6"/>
<line x1="401.10" y1="217.50" x2="542.90" y2="217.50" stroke="#eeeeee" stroke-width="0.6"/>
<line x1="355.90" y1="278.70" x2="401.10" y2="217.50" stroke="#eeeeee" stroke-width="0.6"/>
<line x1="401.10" y1="203.90" x2="542.90" y2="203.90" stroke="#eeeeee" stroke-width="0.6"/>
<line x1="355.90" y1="265.10" x2="401.10" y2="203.90" stroke="#eeeeee" stroke-width="0.6"/>
<line x1="363.69" y1="311.75" x2="363.69" y2="243.95" stroke="#eeeeee" stroke-width="0.5"/>
<line x1="368.86" y1="304.75" x2="368.86" y2="236.95" stroke="#eeeeee" stroke-width="0.5"/>
<line x1="374.03" y1="297.75" x2="374.03" y2="229.95" stroke="#eeeeee" stroke-width="0.5"/>
<line x1="379.21" y1="290.75" x2="379.21" y2="222.95" stroke="#eeeeee" stroke-width="0.5"/>
<line x1="384.38" y1="283.74" x2="384.38" y2="215.94" stroke="#eeeeee" stroke-width="0.5"/>
<line x1="389.55" y1="276.74" x2="389.55" y2="208.94" stroke="#eeeeee" stroke-width="0.5"/>
<line x1="394.72" y1="269.74" x2="394.72" y2="201.94" stroke="#eeeeee" stroke-width="0.5"/>
<line x1="399.89" y1="262.74" x2="399.89" y2="194.94" stroke="#eeeeee" stroke-width="0.5"/>
<line x1="401.10" y1="192.60" x2="401.10" y2="261.10" stroke="#eeeeee" stroke-width="0.6"/>
<path d="M400,263.8 L400,225 C400.83,224.58 403.00,223.33 405.00,222.50 C407.00,221.67 409.50,220.83 412.00,220.00 C414.50,219.17 417.50,218.17 420.00,217.50 C422.50,216.83 425.00,216.25 427.00,216.00 C429.00,215.75 430.17,215.50 432.00,216.00 C433.83,216.50 436.00,217.33 438.00,219.00 C440.00,220.67 442.00,223.33 444.00,226.00 C446.00,228.67 447.83,232.08 450.00,235.00 C452.17,237.92 454.33,240.83 457.00,243.50 C459.67,246.17 462.50,248.83 466.00,251.00 C469.50,253.17 473.17,255.17 478.00,256.50 C482.83,257.83 488.83,258.42 495.00,259.00 C501.17,259.58 507.25,259.78 515.00,260.00 C522.75,260.22 537.08,260.25 541.50,260.30 L541.5,263.8 Z" fill="url(#es0)" stroke="none" stroke-width="1"/>
<path d="M394.7,270.8 L394.7,233 C395.92,232.50 399.33,231.08 402.00,230.00 C404.67,228.92 408.48,227.67 410.70,226.50 C412.92,225.33 413.92,224.00 415.30,223.00 C416.68,222.00 417.73,221.17 419.00,220.50 C420.27,219.83 421.40,219.17 422.90,219.00 C424.40,218.83 426.15,218.67 428.00,219.50 C429.85,220.33 431.83,221.75 434.00,224.00 C436.17,226.25 438.50,229.67 441.00,233.00 C443.50,236.33 446.17,240.50 449.00,244.00 C451.83,247.50 454.83,251.33 458.00,254.00 C461.17,256.67 464.33,258.42 468.00,260.00 C471.67,261.58 474.67,262.62 480.00,263.50 C485.33,264.38 493.33,264.88 500.00,265.30 C506.67,265.72 513.95,265.83 520.00,266.00 C526.05,266.17 533.58,266.25 536.30,266.30 L536.3,270.8 Z" fill="url(#es1)" stroke="none" stroke-width="1"/>
<path d="M389.5,277.7 L389.5,268 C391.25,267.17 395.75,264.33 400.00,263.00 C404.25,261.67 410.30,260.70 415.00,260.00 C419.70,259.30 424.85,258.72 428.20,258.80 C431.55,258.88 433.05,259.97 435.10,260.50 C437.15,261.03 437.95,261.15 440.50,262.00 C443.05,262.85 446.98,264.23 450.40,265.60 C453.82,266.97 457.43,269.03 461.00,270.20 C464.57,271.37 466.97,272.13 471.80,272.60 C476.63,273.07 480.13,273.00 490.00,273.00 C499.87,273.00 524.17,272.67 531.00,272.60 L531,277.7 Z" fill="url(#es2)" stroke="none" stroke-width="1"/>
<path d="M384.4,284.7 L384.4,275 C387.00,274.00 394.40,270.75 400.00,269.00 C405.60,267.25 412.53,265.32 418.00,264.50 C423.47,263.68 428.93,263.40 432.80,264.10 C436.67,264.80 438.27,266.92 441.20,268.70 C444.13,270.48 447.10,273.15 450.40,274.80 C453.70,276.45 456.90,277.73 461.00,278.60 C465.10,279.47 468.50,279.77 475.00,280.00 C481.50,280.23 491.53,280.02 500.00,280.00 C508.47,279.98 521.50,279.92 525.80,279.90 L525.8,284.7 Z" fill="url(#es3)" stroke="none" stroke-width="1"/>
<path d="M379.2,291.7 L379.2,247 C379.83,245.83 381.53,242.08 383.00,240.00 C384.47,237.92 386.17,235.83 388.00,234.50 C389.83,233.17 392.00,232.42 394.00,232.00 C396.00,231.58 398.00,231.58 400.00,232.00 C402.00,232.42 404.17,233.33 406.00,234.50 C407.83,235.67 409.50,237.25 411.00,239.00 C412.50,240.75 413.83,243.45 415.00,245.00 C416.17,246.55 417.07,247.82 418.00,248.30 C418.93,248.78 419.77,247.62 420.60,247.90 C421.43,248.18 422.10,248.73 423.00,250.00 C423.90,251.27 424.83,253.67 426.00,255.50 C427.17,257.33 428.50,258.70 430.00,261.00 C431.50,263.30 433.33,266.63 435.00,269.30 C436.67,271.97 438.17,274.63 440.00,277.00 C441.83,279.37 443.83,281.92 446.00,283.50 C448.17,285.08 449.83,285.83 453.00,286.50 C456.17,287.17 457.17,287.45 465.00,287.50 C472.83,287.55 490.73,286.98 500.00,286.80 C509.27,286.62 517.17,286.47 520.60,286.40 L520.6,291.7 Z" fill="url(#es4)" stroke="none" stroke-width="1"/>
<path d="M374,298.7 L374,258 C374.33,257.00 375.35,253.43 376.00,252.00 C376.65,250.57 377.07,250.73 377.90,249.40 C378.73,248.07 379.98,245.52 381.00,244.00 C382.02,242.48 382.35,241.98 384.00,240.30 C385.65,238.62 388.87,235.30 390.90,233.90 C392.93,232.50 394.68,232.12 396.20,231.90 C397.72,231.68 398.72,232.10 400.00,232.60 C401.28,233.10 402.57,233.75 403.90,234.90 C405.23,236.05 406.73,237.82 408.00,239.50 C409.27,241.18 410.33,242.83 411.50,245.00 C412.67,247.17 413.58,249.83 415.00,252.50 C416.42,255.17 418.33,258.33 420.00,261.00 C421.67,263.67 423.33,266.08 425.00,268.50 C426.67,270.92 428.17,273.17 430.00,275.50 C431.83,277.83 434.00,280.42 436.00,282.50 C438.00,284.58 439.83,286.42 442.00,288.00 C444.17,289.58 446.33,291.00 449.00,292.00 C451.67,293.00 454.50,293.58 458.00,294.00 C461.50,294.42 463.83,294.53 470.00,294.50 C476.17,294.47 487.43,293.98 495.00,293.80 C502.57,293.62 512.00,293.47 515.40,293.40 L515.4,298.7 Z" fill="url(#es5)" stroke="none" stroke-width="1"/>
<path d="M368.6,308.0 L369.2,289 C369.67,286.83 371.07,280.50 372.00,276.00 C372.93,271.50 373.80,266.17 374.80,262.00 C375.80,257.83 376.80,254.00 378.00,251.00 C379.20,248.00 380.67,245.92 382.00,244.00 C383.33,242.08 384.50,240.92 386.00,239.50 C387.50,238.08 389.33,236.33 391.00,235.50 C392.67,234.67 394.50,234.33 396.00,234.50 C397.50,234.67 398.67,235.42 400.00,236.50 C401.33,237.58 402.67,239.08 404.00,241.00 C405.33,242.92 406.67,245.50 408.00,248.00 C409.33,250.50 410.67,253.33 412.00,256.00 C413.33,258.67 414.67,261.50 416.00,264.00 C417.33,266.50 418.33,268.33 420.00,271.00 C421.67,273.67 424.00,277.17 426.00,280.00 C428.00,282.83 430.00,285.67 432.00,288.00 C434.00,290.33 435.83,292.25 438.00,294.00 C440.17,295.75 442.17,297.37 445.00,298.50 C447.83,299.63 449.17,300.38 455.00,300.80 C460.83,301.22 470.80,301.05 480.00,301.00 C489.20,300.95 505.17,300.58 510.20,300.50 L510.2,305.7 Z" fill="url(#es6)" stroke="none" stroke-width="1"/>
<path d="M371,312.7 L371,306.5 C371.42,305.42 372.67,302.08 373.50,300.00 C374.33,297.92 375.02,296.33 376.00,294.00 C376.98,291.67 377.82,290.12 379.40,286.00 C380.98,281.88 383.20,274.63 385.50,269.30 C387.80,263.97 391.28,257.05 393.20,254.00 C395.12,250.95 395.73,251.63 397.00,251.00 C398.27,250.37 399.47,249.87 400.80,250.20 C402.13,250.53 403.80,251.37 405.00,253.00 C406.20,254.63 406.75,257.17 408.00,260.00 C409.25,262.83 410.50,266.17 412.50,270.00 C414.50,273.83 417.42,279.33 420.00,283.00 C422.58,286.67 425.50,289.58 428.00,292.00 C430.50,294.42 432.67,295.92 435.00,297.50 C437.33,299.08 439.50,300.33 442.00,301.50 C444.50,302.67 446.67,303.67 450.00,304.50 C453.33,305.33 457.00,306.00 462.00,306.50 C467.00,307.00 472.83,307.28 480.00,307.50 C487.17,307.72 500.83,307.75 505.00,307.80 L505,312.7 Z" fill="url(#es7)" stroke="none" stroke-width="1"/>
<path d="M357.6,319.8 L357.6,315.8 C358.43,315.77 361.63,316.17 362.60,315.60 C363.57,315.03 362.57,312.97 363.40,312.40 C364.23,311.83 366.77,313.20 367.60,312.20 C368.43,311.20 367.17,307.43 368.40,306.40 C369.63,305.37 372.73,306.20 375.00,306.00 C377.27,305.80 380.42,305.50 382.00,305.20 C383.58,304.90 383.67,305.07 384.50,304.20 C385.33,303.33 386.18,301.50 387.00,300.00 C387.82,298.50 388.57,297.20 389.40,295.20 C390.23,293.20 391.12,289.78 392.00,288.00 C392.88,286.22 393.53,285.50 394.70,284.50 C395.87,283.50 397.62,282.92 399.00,282.00 C400.38,281.08 401.55,279.85 403.00,279.00 C404.45,278.15 406.03,276.82 407.70,276.90 C409.37,276.98 411.10,277.98 413.00,279.50 C414.90,281.02 416.80,283.38 419.10,286.00 C421.40,288.62 424.77,292.65 426.80,295.20 C428.83,297.75 429.60,299.50 431.30,301.30 C433.00,303.10 434.55,304.63 437.00,306.00 C439.45,307.37 442.17,308.58 446.00,309.50 C449.83,310.42 454.33,310.95 460.00,311.50 C465.67,312.05 473.37,312.52 480.00,312.80 C486.63,313.08 496.50,313.13 499.80,313.20 L499.8,319.8 Z" fill="url(#es8)" stroke="none" stroke-width="1"/>
<line x1="393.50" y1="237.60" x2="402.50" y2="273.00" stroke="#111" stroke-width="0.8"/>
<line x1="402.50" y1="273.00" x2="400.52" y2="270.49" stroke="#111" stroke-width="0.8"/>
<line x1="402.50" y1="273.00" x2="403.04" y2="269.85" stroke="#111" stroke-width="0.8"/>
<line x1="425.30" y1="217.70" x2="440.60" y2="262.30" stroke="#111" stroke-width="0.8"/>
<line x1="440.60" y1="262.30" x2="438.42" y2="259.96" stroke="#111" stroke-width="0.8"/>
<line x1="440.60" y1="262.30" x2="440.89" y2="259.11" stroke="#111" stroke-width="0.8"/>
<polyline points="355.40,254.80 400.90,192.60 542.90,192.60 542.90,261.10" fill="none" stroke="#4a4a4a" stroke-width="0.9"/>
<polyline points="355.60,254.80 355.90,322.30 497.70,322.30 542.90,261.10" fill="none" stroke="#4a4a4a" stroke-width="0.9"/>
<line x1="352.90" y1="319.50" x2="355.90" y2="319.50" stroke="#4a4a4a" stroke-width="0.8"/>
<text x="351.6" y="322.2" font-size="7.9" text-anchor="end" fill="#1c1c1c" stroke="#1c1c1c" stroke-width="0.22">0</text>
<line x1="352.90" y1="305.90" x2="355.90" y2="305.90" stroke="#4a4a4a" stroke-width="0.8"/>
<text x="351.6" y="308.6" font-size="7.9" text-anchor="end" fill="#1c1c1c" stroke="#1c1c1c" stroke-width="0.22">16</text>
<line x1="352.90" y1="292.30" x2="355.90" y2="292.30" stroke="#4a4a4a" stroke-width="0.8"/>
<text x="351.6" y="295.0" font-size="7.9" text-anchor="end" fill="#1c1c1c" stroke="#1c1c1c" stroke-width="0.22">32</text>
<line x1="352.90" y1="278.70" x2="355.90" y2="278.70" stroke="#4a4a4a" stroke-width="0.8"/>
<text x="351.6" y="281.4" font-size="7.9" text-anchor="end" fill="#1c1c1c" stroke="#1c1c1c" stroke-width="0.22">48</text>
<line x1="352.90" y1="265.10" x2="355.90" y2="265.10" stroke="#4a4a4a" stroke-width="0.8"/>
<text x="351.6" y="267.8" font-size="7.9" text-anchor="end" fill="#1c1c1c" stroke="#1c1c1c" stroke-width="0.22">64</text>
<line x1="354.30" y1="316.10" x2="355.90" y2="316.10" stroke="#4a4a4a" stroke-width="0.5"/>
<line x1="354.30" y1="312.70" x2="355.90" y2="312.70" stroke="#4a4a4a" stroke-width="0.5"/>
<line x1="354.30" y1="309.30" x2="355.90" y2="309.30" stroke="#4a4a4a" stroke-width="0.5"/>
<line x1="354.30" y1="302.50" x2="355.90" y2="302.50" stroke="#4a4a4a" stroke-width="0.5"/>
<line x1="354.30" y1="299.10" x2="355.90" y2="299.10" stroke="#4a4a4a" stroke-width="0.5"/>
<line x1="354.30" y1="295.70" x2="355.90" y2="295.70" stroke="#4a4a4a" stroke-width="0.5"/>
<line x1="354.30" y1="288.90" x2="355.90" y2="288.90" stroke="#4a4a4a" stroke-width="0.5"/>
<line x1="354.30" y1="285.50" x2="355.90" y2="285.50" stroke="#4a4a4a" stroke-width="0.5"/>
<line x1="354.30" y1="282.10" x2="355.90" y2="282.10" stroke="#4a4a4a" stroke-width="0.5"/>
<line x1="354.30" y1="275.30" x2="355.90" y2="275.30" stroke="#4a4a4a" stroke-width="0.5"/>
<line x1="354.30" y1="271.90" x2="355.90" y2="271.90" stroke="#4a4a4a" stroke-width="0.5"/>
<line x1="354.30" y1="268.50" x2="355.90" y2="268.50" stroke="#4a4a4a" stroke-width="0.5"/>
<line x1="354.30" y1="261.70" x2="355.90" y2="261.70" stroke="#4a4a4a" stroke-width="0.5"/>
<line x1="354.30" y1="258.30" x2="355.90" y2="258.30" stroke="#4a4a4a" stroke-width="0.5"/>
<line x1="355.90" y1="322.30" x2="355.90" y2="325.30" stroke="#4a4a4a" stroke-width="0.8"/>
<text x="355.9" y="334.2" font-size="7.9" text-anchor="middle" fill="#1c1c1c" stroke="#1c1c1c" stroke-width="0.22">-2</text>
<line x1="376.16" y1="322.30" x2="376.16" y2="325.30" stroke="#4a4a4a" stroke-width="0.8"/>
<text x="376.16" y="334.2" font-size="7.9" text-anchor="middle" fill="#1c1c1c" stroke="#1c1c1c" stroke-width="0.22">-1</text>
<line x1="396.41" y1="322.30" x2="396.41" y2="325.30" stroke="#4a4a4a" stroke-width="0.8"/>
<text x="396.41" y="334.2" font-size="7.9" text-anchor="middle" fill="#1c1c1c" stroke="#1c1c1c" stroke-width="0.22">0</text>
<line x1="416.67" y1="322.30" x2="416.67" y2="325.30" stroke="#4a4a4a" stroke-width="0.8"/>
<text x="416.67" y="334.2" font-size="7.9" text-anchor="middle" fill="#1c1c1c" stroke="#1c1c1c" stroke-width="0.22">1</text>
<line x1="436.93" y1="322.30" x2="436.93" y2="325.30" stroke="#4a4a4a" stroke-width="0.8"/>
<text x="436.93" y="334.2" font-size="7.9" text-anchor="middle" fill="#1c1c1c" stroke="#1c1c1c" stroke-width="0.22">2</text>
<line x1="457.19" y1="322.30" x2="457.19" y2="325.30" stroke="#4a4a4a" stroke-width="0.8"/>
<text x="457.19" y="334.2" font-size="7.9" text-anchor="middle" fill="#1c1c1c" stroke="#1c1c1c" stroke-width="0.22">3</text>
<line x1="477.44" y1="322.30" x2="477.44" y2="325.30" stroke="#4a4a4a" stroke-width="0.8"/>
<text x="477.44" y="334.2" font-size="7.9" text-anchor="middle" fill="#1c1c1c" stroke="#1c1c1c" stroke-width="0.22">4</text>
<line x1="497.70" y1="322.30" x2="497.70" y2="325.30" stroke="#4a4a4a" stroke-width="0.8"/>
<text x="497.7" y="334.2" font-size="7.9" text-anchor="middle" fill="#1c1c1c" stroke="#1c1c1c" stroke-width="0.22">5</text>
<line x1="359.95" y1="322.30" x2="359.95" y2="323.90" stroke="#4a4a4a" stroke-width="0.5"/>
<line x1="364.00" y1="322.30" x2="364.00" y2="323.90" stroke="#4a4a4a" stroke-width="0.5"/>
<line x1="368.05" y1="322.30" x2="368.05" y2="323.90" stroke="#4a4a4a" stroke-width="0.5"/>
<line x1="372.11" y1="322.30" x2="372.11" y2="323.90" stroke="#4a4a4a" stroke-width="0.5"/>
<line x1="380.21" y1="322.30" x2="380.21" y2="323.90" stroke="#4a4a4a" stroke-width="0.5"/>
<line x1="384.26" y1="322.30" x2="384.26" y2="323.90" stroke="#4a4a4a" stroke-width="0.5"/>
<line x1="388.31" y1="322.30" x2="388.31" y2="323.90" stroke="#4a4a4a" stroke-width="0.5"/>
<line x1="392.36" y1="322.30" x2="392.36" y2="323.90" stroke="#4a4a4a" stroke-width="0.5"/>
<line x1="400.47" y1="322.30" x2="400.47" y2="323.90" stroke="#4a4a4a" stroke-width="0.5"/>
<line x1="404.52" y1="322.30" x2="404.52" y2="323.90" stroke="#4a4a4a" stroke-width="0.5"/>
<line x1="408.57" y1="322.30" x2="408.57" y2="323.90" stroke="#4a4a4a" stroke-width="0.5"/>
<line x1="412.62" y1="322.30" x2="412.62" y2="323.90" stroke="#4a4a4a" stroke-width="0.5"/>
<line x1="420.72" y1="322.30" x2="420.72" y2="323.90" stroke="#4a4a4a" stroke-width="0.5"/>
<line x1="424.77" y1="322.30" x2="424.77" y2="323.90" stroke="#4a4a4a" stroke-width="0.5"/>
<line x1="428.83" y1="322.30" x2="428.83" y2="323.90" stroke="#4a4a4a" stroke-width="0.5"/>
<line x1="432.88" y1="322.30" x2="432.88" y2="323.90" stroke="#4a4a4a" stroke-width="0.5"/>
<line x1="440.98" y1="322.30" x2="440.98" y2="323.90" stroke="#4a4a4a" stroke-width="0.5"/>
<line x1="445.03" y1="322.30" x2="445.03" y2="323.90" stroke="#4a4a4a" stroke-width="0.5"/>
<line x1="449.08" y1="322.30" x2="449.08" y2="323.90" stroke="#4a4a4a" stroke-width="0.5"/>
<line x1="453.13" y1="322.30" x2="453.13" y2="323.90" stroke="#4a4a4a" stroke-width="0.5"/>
<line x1="461.24" y1="322.30" x2="461.24" y2="323.90" stroke="#4a4a4a" stroke-width="0.5"/>
<line x1="465.29" y1="322.30" x2="465.29" y2="323.90" stroke="#4a4a4a" stroke-width="0.5"/>
<line x1="469.34" y1="322.30" x2="469.34" y2="323.90" stroke="#4a4a4a" stroke-width="0.5"/>
<line x1="473.39" y1="322.30" x2="473.39" y2="323.90" stroke="#4a4a4a" stroke-width="0.5"/>
<line x1="481.49" y1="322.30" x2="481.49" y2="323.90" stroke="#4a4a4a" stroke-width="0.5"/>
<line x1="485.54" y1="322.30" x2="485.54" y2="323.90" stroke="#4a4a4a" stroke-width="0.5"/>
<line x1="489.60" y1="322.30" x2="489.60" y2="323.90" stroke="#4a4a4a" stroke-width="0.5"/>
<line x1="493.65" y1="322.30" x2="493.65" y2="323.90" stroke="#4a4a4a" stroke-width="0.5"/>
<line x1="500.32" y1="318.75" x2="502.92" y2="318.75" stroke="#4a4a4a" stroke-width="0.7"/>
<text font-size="7.6" fill="#000" transform="translate(505.72,323.15) rotate(-13) skewX(-16) scale(1,0.9)">-1.4</text>
<line x1="502.91" y1="315.25" x2="504.41" y2="315.25" stroke="#4a4a4a" stroke-width="0.5"/>
<line x1="505.49" y1="311.75" x2="508.09" y2="311.75" stroke="#4a4a4a" stroke-width="0.7"/>
<text font-size="7.6" fill="#000" transform="translate(510.89,316.15) rotate(-13) skewX(-16) scale(1,0.9)">-1.2</text>
<line x1="508.08" y1="308.25" x2="509.58" y2="308.25" stroke="#4a4a4a" stroke-width="0.5"/>
<line x1="510.66" y1="304.75" x2="513.26" y2="304.75" stroke="#4a4a4a" stroke-width="0.7"/>
<text font-size="7.6" fill="#000" transform="translate(516.06,309.15) rotate(-13) skewX(-16) scale(1,0.9)">-1.0</text>
<line x1="513.25" y1="301.25" x2="514.75" y2="301.25" stroke="#4a4a4a" stroke-width="0.5"/>
<line x1="515.83" y1="297.75" x2="518.43" y2="297.75" stroke="#4a4a4a" stroke-width="0.7"/>
<text font-size="7.6" fill="#000" transform="translate(521.23,302.15) rotate(-13) skewX(-16) scale(1,0.9)">-0.8</text>
<line x1="518.42" y1="294.25" x2="519.92" y2="294.25" stroke="#4a4a4a" stroke-width="0.5"/>
<line x1="521.01" y1="290.75" x2="523.61" y2="290.75" stroke="#4a4a4a" stroke-width="0.7"/>
<text font-size="7.6" fill="#000" transform="translate(526.41,295.15) rotate(-13) skewX(-16) scale(1,0.9)">-0.6</text>
<line x1="523.59" y1="287.24" x2="525.09" y2="287.24" stroke="#4a4a4a" stroke-width="0.5"/>
<line x1="526.18" y1="283.74" x2="528.78" y2="283.74" stroke="#4a4a4a" stroke-width="0.7"/>
<text font-size="7.6" fill="#000" transform="translate(531.58,288.14) rotate(-13) skewX(-16) scale(1,0.9)">-0.4</text>
<line x1="528.76" y1="280.24" x2="530.26" y2="280.24" stroke="#4a4a4a" stroke-width="0.5"/>
<line x1="531.35" y1="276.74" x2="533.95" y2="276.74" stroke="#4a4a4a" stroke-width="0.7"/>
<text font-size="7.6" fill="#000" transform="translate(536.75,281.14) rotate(-13) skewX(-16) scale(1,0.9)">-0.2</text>
<line x1="533.93" y1="273.24" x2="535.43" y2="273.24" stroke="#4a4a4a" stroke-width="0.5"/>
<line x1="536.52" y1="269.74" x2="539.12" y2="269.74" stroke="#4a4a4a" stroke-width="0.7"/>
<text font-size="7.6" fill="#000" transform="translate(541.92,274.14) rotate(-13) skewX(-16) scale(1,0.9)">0.0</text>
<line x1="539.10" y1="266.24" x2="540.60" y2="266.24" stroke="#4a4a4a" stroke-width="0.5"/>
<line x1="541.69" y1="262.74" x2="544.29" y2="262.74" stroke="#4a4a4a" stroke-width="0.7"/>
<text font-size="7.6" fill="#000" transform="translate(547.09,267.14) rotate(-13) skewX(-16) scale(1,0.9)">0.2</text>
<text x="423.5" y="348" font-size="8.6" text-anchor="middle" fill="#1c1c1c" stroke="#1c1c1c" stroke-width="0.22">Log(Freq.) (Hz)</text>
<text x="335.7" y="297.5" font-size="8.6" text-anchor="middle" fill="#1c1c1c" stroke="#1c1c1c" stroke-width="0.22" transform="rotate(-90 335.7 297.5)">-phase (degree)</text>
<text font-size="8.6" fill="#1c1c1c" stroke="#1c1c1c" stroke-width="0.22" text-anchor="middle" transform="translate(547.6,301.6) rotate(-54)">E (V vs Ag/AgCl)</text>
<text x="470.8" y="202.5" font-size="7.8" fill="#1c1c1c" stroke="#1c1c1c" stroke-width="0.22">without TCMP, in O<tspan font-size="68%" dy="2.3">2</tspan></text>
</g>
<g id="pf">
<text x="575.4" y="190.6" font-size="13.3" font-weight="bold" fill="#000" stroke="#000" stroke-width="0.22">f</text>
<rect x="619.10" y="193.20" width="30.90" height="17.87" fill="#5b93cb"/>
<rect x="653.10" y="193.20" width="30.90" height="17.87" fill="#79a7d7"/>
<rect x="687.10" y="193.20" width="30.90" height="17.87" fill="#75a4d5"/>
<rect x="721.10" y="193.20" width="30.90" height="17.87" fill="#95bae2"/>
<rect x="619.10" y="214.37" width="30.90" height="17.87" fill="#79a7d7"/>
<rect x="653.10" y="214.37" width="30.90" height="17.87" fill="#9abde4"/>
<rect x="687.10" y="214.37" width="30.90" height="17.87" fill="#92b8e1"/>
<rect x="721.10" y="214.37" width="30.90" height="17.87" fill="#92b8e1"/>
<rect x="619.10" y="235.53" width="30.90" height="17.87" fill="#5c94cb"/>
<rect x="653.10" y="235.53" width="30.90" height="17.87" fill="#7ba8d7"/>
<rect x="687.10" y="235.53" width="30.90" height="17.87" fill="#d2e3f8"/>
<rect x="721.10" y="235.53" width="30.90" height="17.87" fill="#eeccae"/>
<rect x="619.10" y="256.70" width="30.90" height="17.87" fill="#5c94cb"/>
<rect x="653.10" y="256.70" width="30.90" height="17.87" fill="#9abde4"/>
<rect x="687.10" y="256.70" width="30.90" height="17.87" fill="#d9dde3"/>
<rect x="721.10" y="256.70" width="30.90" height="17.87" fill="#e4d6ca"/>
<rect x="619.10" y="277.87" width="30.90" height="17.87" fill="#5e95cc"/>
<rect x="653.10" y="277.87" width="30.90" height="17.87" fill="#7ba8d7"/>
<rect x="687.10" y="277.87" width="30.90" height="17.87" fill="#d9dde3"/>
<rect x="721.10" y="277.87" width="30.90" height="17.87" fill="#e4d6ca"/>
<rect x="619.10" y="299.03" width="30.90" height="17.87" fill="#79a7d7"/>
<rect x="653.10" y="299.03" width="30.90" height="17.87" fill="#79a7d7"/>
<rect x="687.10" y="299.03" width="30.90" height="17.87" fill="#fdb072"/>
<rect x="721.10" y="299.03" width="30.90" height="17.87" fill="#fdb072"/>
<rect x="617.5" y="191.5" width="136.00" height="127.00" fill="none" stroke="#6e6e6e" stroke-width="1"/>
<line x1="614.50" y1="202.08" x2="617.50" y2="202.08" stroke="#6e6e6e" stroke-width="0.8"/>
<text x="613.1" y="204.68" font-size="7.35" text-anchor="end" fill="#1c1c1c" stroke="#1c1c1c" stroke-width="0.22">TBAT</text>
<line x1="614.50" y1="223.25" x2="617.50" y2="223.25" stroke="#6e6e6e" stroke-width="0.8"/>
<text x="613.1" y="225.85" font-size="7.35" text-anchor="end" fill="#1c1c1c" stroke="#1c1c1c" stroke-width="0.22">TBAB</text>
<line x1="614.50" y1="244.42" x2="617.50" y2="244.42" stroke="#6e6e6e" stroke-width="0.8"/>
<text x="613.1" y="247.02" font-size="7.35" text-anchor="end" fill="#1c1c1c" stroke="#1c1c1c" stroke-width="0.22">LiClO<tspan font-size="68%" dy="2.3">4</tspan></text>
<line x1="614.50" y1="265.58" x2="617.50" y2="265.58" stroke="#6e6e6e" stroke-width="0.8"/>
<text x="613.1" y="268.18" font-size="7.35" text-anchor="end" fill="#1c1c1c" stroke="#1c1c1c" stroke-width="0.22">LiOAc·2H<tspan font-size="68%" dy="2.3">2</tspan><tspan dy="-2.3">O</tspan></text>
<line x1="614.50" y1="286.75" x2="617.50" y2="286.75" stroke="#6e6e6e" stroke-width="0.8"/>
<text x="613.1" y="289.35" font-size="7.35" text-anchor="end" fill="#1c1c1c" stroke="#1c1c1c" stroke-width="0.22">LiOAc</text>
<line x1="614.50" y1="307.92" x2="617.50" y2="307.92" stroke="#6e6e6e" stroke-width="0.8"/>
<text x="613.1" y="310.52" font-size="7.35" text-anchor="end" fill="#1c1c1c" stroke="#1c1c1c" stroke-width="0.22">TMAH</text>
<line x1="634.50" y1="318.50" x2="634.50" y2="321.50" stroke="#6e6e6e" stroke-width="0.8"/>
<text x="634.5" y="328.3" font-size="7.9" text-anchor="middle" fill="#1c1c1c" stroke="#1c1c1c" stroke-width="0.22">0.01</text>
<line x1="668.50" y1="318.50" x2="668.50" y2="321.50" stroke="#6e6e6e" stroke-width="0.8"/>
<text x="668.5" y="328.3" font-size="7.9" text-anchor="middle" fill="#1c1c1c" stroke="#1c1c1c" stroke-width="0.22">0.03</text>
<line x1="702.50" y1="318.50" x2="702.50" y2="321.50" stroke="#6e6e6e" stroke-width="0.8"/>
<text x="702.5" y="328.3" font-size="7.9" text-anchor="middle" fill="#1c1c1c" stroke="#1c1c1c" stroke-width="0.22">0.3</text>
<line x1="736.50" y1="318.50" x2="736.50" y2="321.50" stroke="#6e6e6e" stroke-width="0.8"/>
<text x="736.5" y="328.3" font-size="7.9" text-anchor="middle" fill="#1c1c1c" stroke="#1c1c1c" stroke-width="0.22">0.5</text>
<text x="691" y="343.9" font-size="8.6" text-anchor="middle" fill="#1c1c1c" stroke="#1c1c1c" stroke-width="0.22">Electrolyte concentration (M)</text>
<rect x="767.50" y="197.30" width="15.00" height="118.70" fill="url(#cbf)" stroke="#999" stroke-width="0.6"/>
<line x1="782.50" y1="197.30" x2="785.00" y2="197.30" stroke="#6e6e6e" stroke-width="0.7"/>
<text x="788" y="199.6" font-size="6.3" fill="#1c1c1c" stroke="#1c1c1c" stroke-width="0.15">100</text>
<line x1="782.50" y1="209.17" x2="785.00" y2="209.17" stroke="#6e6e6e" stroke-width="0.7"/>
<text x="788" y="211.47" font-size="6.3" fill="#1c1c1c" stroke="#1c1c1c" stroke-width="0.15">90</text>
<line x1="782.50" y1="221.04" x2="785.00" y2="221.04" stroke="#6e6e6e" stroke-width="0.7"/>
<text x="788" y="223.34" font-size="6.3" fill="#1c1c1c" stroke="#1c1c1c" stroke-width="0.15">80</text>
<line x1="782.50" y1="232.91" x2="785.00" y2="232.91" stroke="#6e6e6e" stroke-width="0.7"/>
<text x="788" y="235.21" font-size="6.3" fill="#1c1c1c" stroke="#1c1c1c" stroke-width="0.15">70</text>
<line x1="782.50" y1="244.78" x2="785.00" y2="244.78" stroke="#6e6e6e" stroke-width="0.7"/>
<text x="788" y="247.08" font-size="6.3" fill="#1c1c1c" stroke="#1c1c1c" stroke-width="0.15">60</text>
<line x1="782.50" y1="256.65" x2="785.00" y2="256.65" stroke="#6e6e6e" stroke-width="0.7"/>
<text x="788" y="258.95" font-size="6.3" fill="#1c1c1c" stroke="#1c1c1c" stroke-width="0.15">50</text>
<line x1="782.50" y1="268.52" x2="785.00" y2="268.52" stroke="#6e6e6e" stroke-width="0.7"/>
<text x="788" y="270.82" font-size="6.3" fill="#1c1c1c" stroke="#1c1c1c" stroke-width="0.15">40</text>
<line x1="782.50" y1="280.39" x2="785.00" y2="280.39" stroke="#6e6e6e" stroke-width="0.7"/>
<text x="788" y="282.69" font-size="6.3" fill="#1c1c1c" stroke="#1c1c1c" stroke-width="0.15">30</text>
<line x1="782.50" y1="292.26" x2="785.00" y2="292.26" stroke="#6e6e6e" stroke-width="0.7"/>
<text x="788" y="294.56" font-size="6.3" fill="#1c1c1c" stroke="#1c1c1c" stroke-width="0.15">20</text>
<line x1="782.50" y1="304.13" x2="785.00" y2="304.13" stroke="#6e6e6e" stroke-width="0.7"/>
<text x="788" y="306.43" font-size="6.3" fill="#1c1c1c" stroke="#1c1c1c" stroke-width="0.15">10</text>
<line x1="782.50" y1="316.00" x2="785.00" y2="316.00" stroke="#6e6e6e" stroke-width="0.7"/>
<text x="788" y="318.3" font-size="6.3" fill="#1c1c1c" stroke="#1c1c1c" stroke-width="0.15">0</text>
<text x="764" y="191.3" font-size="6.2" fill="#1c1c1c" stroke="#1c1c1c" stroke-width="0.15">Sel.<tspan font-size="4.5" dy="1.7" dx="1" stroke-width="0.1">MCN</tspan></text>
</g>
<g id="pg">
<text x="16.8" y="358.8" font-size="13.3" font-weight="bold" fill="#000" stroke="#000" stroke-width="0.22">g</text>
<rect x="40.45" y="383.15" width="6.25" height="107.35" fill="url(#gY)"/>
<rect x="46.70" y="377.61" width="6.25" height="112.89" fill="url(#gS)"/>
<rect x="57.02" y="379.54" width="6.25" height="110.96" fill="url(#gY)"/>
<rect x="63.27" y="377.13" width="6.25" height="113.37" fill="url(#gS)"/>
<rect x="73.58" y="380.26" width="6.25" height="110.24" fill="url(#gY)"/>
<rect x="79.83" y="376.65" width="6.25" height="113.85" fill="url(#gS)"/>
<rect x="90.15" y="380.26" width="6.25" height="110.24" fill="url(#gY)"/>
<rect x="96.40" y="377.61" width="6.25" height="112.89" fill="url(#gS)"/>
<rect x="106.71" y="379.42" width="6.25" height="111.08" fill="url(#gY)"/>
<rect x="112.96" y="377.13" width="6.25" height="113.37" fill="url(#gS)"/>
<rect x="123.28" y="378.94" width="6.25" height="111.56" fill="url(#gY)"/>
<rect x="129.53" y="378.09" width="6.25" height="112.41" fill="url(#gS)"/>
<rect x="139.85" y="380.74" width="6.25" height="109.76" fill="url(#gY)"/>
<rect x="146.10" y="377.85" width="6.25" height="112.65" fill="url(#gS)"/>
<rect x="156.41" y="380.38" width="6.25" height="110.12" fill="url(#gY)"/>
<rect x="162.66" y="377.37" width="6.25" height="113.13" fill="url(#gS)"/>
<rect x="172.98" y="380.98" width="6.25" height="109.52" fill="url(#gY)"/>
<rect x="179.23" y="378.21" width="6.25" height="112.29" fill="url(#gS)"/>
<rect x="189.54" y="380.98" width="6.25" height="109.52" fill="url(#gY)"/>
<rect x="195.79" y="378.21" width="6.25" height="112.29" fill="url(#gS)"/>
<rect x="206.11" y="381.46" width="6.25" height="109.04" fill="url(#gY)"/>
<rect x="212.36" y="378.82" width="6.25" height="111.68" fill="url(#gS)"/>
<rect x="222.68" y="380.86" width="6.25" height="109.64" fill="url(#gY)"/>
<rect x="228.93" y="378.09" width="6.25" height="112.41" fill="url(#gS)"/>
<rect x="239.24" y="380.74" width="6.25" height="109.76" fill="url(#gY)"/>
<rect x="245.49" y="378.09" width="6.25" height="112.41" fill="url(#gS)"/>
<rect x="255.81" y="384.11" width="6.25" height="106.39" fill="url(#gY)"/>
<rect x="262.06" y="378.94" width="6.25" height="111.56" fill="url(#gS)"/>
<rect x="272.37" y="384.35" width="6.25" height="106.15" fill="url(#gY)"/>
<rect x="278.62" y="378.45" width="6.25" height="112.05" fill="url(#gS)"/>
<rect x="288.94" y="381.10" width="6.25" height="109.40" fill="url(#gY)"/>
<rect x="295.19" y="377.13" width="6.25" height="113.37" fill="url(#gS)"/>
<rect x="305.51" y="384.71" width="6.25" height="105.79" fill="url(#gY)"/>
<rect x="311.76" y="377.13" width="6.25" height="113.37" fill="url(#gS)"/>
<rect x="322.07" y="382.91" width="6.25" height="107.59" fill="url(#gY)"/>
<rect x="328.32" y="378.09" width="6.25" height="112.41" fill="url(#gS)"/>
<rect x="338.64" y="388.20" width="6.25" height="102.30" fill="url(#gY)"/>
<rect x="344.89" y="378.09" width="6.25" height="112.41" fill="url(#gS)"/>
<rect x="355.20" y="380.02" width="6.25" height="110.48" fill="url(#gY)"/>
<rect x="361.45" y="377.13" width="6.25" height="113.37" fill="url(#gS)"/>
<rect x="371.77" y="380.98" width="6.25" height="109.52" fill="url(#gY)"/>
<rect x="378.02" y="377.85" width="6.25" height="112.65" fill="url(#gS)"/>
<rect x="388.34" y="379.78" width="6.25" height="110.72" fill="url(#gY)"/>
<rect x="394.59" y="378.57" width="6.25" height="111.93" fill="url(#gS)"/>
<rect x="404.90" y="380.38" width="6.25" height="110.12" fill="url(#gY)"/>
<rect x="411.15" y="379.30" width="6.25" height="111.20" fill="url(#gS)"/>
<rect x="421.47" y="380.98" width="6.25" height="109.52" fill="url(#gY)"/>
<rect x="427.72" y="378.94" width="6.25" height="111.56" fill="url(#gS)"/>
<rect x="438.03" y="380.02" width="6.25" height="110.48" fill="url(#gY)"/>
<rect x="444.28" y="378.57" width="6.25" height="111.93" fill="url(#gS)"/>
<rect x="454.60" y="380.50" width="6.25" height="110.00" fill="url(#gY)"/>
<rect x="460.85" y="378.94" width="6.25" height="111.56" fill="url(#gS)"/>
<rect x="471.17" y="380.02" width="6.25" height="110.48" fill="url(#gY)"/>
<rect x="477.42" y="378.57" width="6.25" height="111.93" fill="url(#gS)"/>
<rect x="487.73" y="378.94" width="6.25" height="111.56" fill="url(#gY)"/>
<rect x="493.98" y="378.21" width="6.25" height="112.29" fill="url(#gS)"/>
<rect x="504.30" y="381.46" width="6.25" height="109.04" fill="url(#gY)"/>
<rect x="510.55" y="380.02" width="6.25" height="110.48" fill="url(#gS)"/>
<rect x="520.86" y="378.57" width="6.25" height="111.93" fill="url(#gY)"/>
<rect x="527.11" y="377.37" width="6.25" height="113.13" fill="url(#gS)"/>
<polyline points="46.70,394.90 63.27,397.40 79.83,398.00 96.40,398.50 112.96,397.70 129.53,397.10 146.10,399.10 162.66,399.30 179.23,397.70 195.79,395.20 212.36,394.90 228.93,395.90 245.49,396.70 262.06,395.90 278.62,398.50 295.19,399.10 311.76,397.70 328.32,397.10 344.89,400.30 361.45,399.60 378.02,397.70 394.59,396.70 411.15,396.20 427.72,396.70 444.28,395.20 460.85,395.50 477.42,395.20 493.98,396.70 510.55,399.10 527.11,397.70" fill="none" stroke="#f3b26a" stroke-width="0.9"/>
<polygon points="45.10,393.50 48.30,394.90 45.10,396.30" fill="#f5b56d" stroke="none" stroke-width="1"/>
<polygon points="61.67,396.00 64.87,397.40 61.67,398.80" fill="#f5b56d" stroke="none" stroke-width="1"/>
<polygon points="78.23,396.60 81.43,398.00 78.23,399.40" fill="#f5b56d" stroke="none" stroke-width="1"/>
<polygon points="94.80,397.10 98.00,398.50 94.80,399.90" fill="#f5b56d" stroke="none" stroke-width="1"/>
<polygon points="111.36,396.30 114.56,397.70 111.36,399.10" fill="#f5b56d" stroke="none" stroke-width="1"/>
<polygon points="127.93,395.70 131.13,397.10 127.93,398.50" fill="#f5b56d" stroke="none" stroke-width="1"/>
<polygon points="144.50,397.70 147.70,399.10 144.50,400.50" fill="#f5b56d" stroke="none" stroke-width="1"/>
<polygon points="161.06,397.90 164.26,399.30 161.06,400.70" fill="#f5b56d" stroke="none" stroke-width="1"/>
<polygon points="177.63,396.30 180.83,397.70 177.63,399.10" fill="#f5b56d" stroke="none" stroke-width="1"/>
<polygon points="194.19,393.80 197.39,395.20 194.19,396.60" fill="#f5b56d" stroke="none" stroke-width="1"/>
<polygon points="210.76,393.50 213.96,394.90 210.76,396.30" fill="#f5b56d" stroke="none" stroke-width="1"/>
<polygon points="227.33,394.50 230.53,395.90 227.33,397.30" fill="#f5b56d" stroke="none" stroke-width="1"/>
<polygon points="243.89,395.30 247.09,396.70 243.89,398.10" fill="#f5b56d" stroke="none" stroke-width="1"/>
<polygon points="260.46,394.50 263.66,395.90 260.46,397.30" fill="#f5b56d" stroke="none" stroke-width="1"/>
<polygon points="277.02,397.10 280.22,398.50 277.02,399.90" fill="#f5b56d" stroke="none" stroke-width="1"/>
<polygon points="293.59,397.70 296.79,399.10 293.59,400.50" fill="#f5b56d" stroke="none" stroke-width="1"/>
<polygon points="310.16,396.30 313.36,397.70 310.16,399.10" fill="#f5b56d" stroke="none" stroke-width="1"/>
<polygon points="326.72,395.70 329.92,397.10 326.72,398.50" fill="#f5b56d" stroke="none" stroke-width="1"/>
<polygon points="343.29,398.90 346.49,400.30 343.29,401.70" fill="#f5b56d" stroke="none" stroke-width="1"/>
<polygon points="359.85,398.20 363.05,399.60 359.85,401.00" fill="#f5b56d" stroke="none" stroke-width="1"/>
<polygon points="376.42,396.30 379.62,397.70 376.42,399.10" fill="#f5b56d" stroke="none" stroke-width="1"/>
<polygon points="392.99,395.30 396.19,396.70 392.99,398.10" fill="#f5b56d" stroke="none" stroke-width="1"/>
<polygon points="409.55,394.80 412.75,396.20 409.55,397.60" fill="#f5b56d" stroke="none" stroke-width="1"/>
<polygon points="426.12,395.30 429.32,396.70 426.12,398.10" fill="#f5b56d" stroke="none" stroke-width="1"/>
<polygon points="442.68,393.80 445.88,395.20 442.68,396.60" fill="#f5b56d" stroke="none" stroke-width="1"/>
<polygon points="459.25,394.10 462.45,395.50 459.25,396.90" fill="#f5b56d" stroke="none" stroke-width="1"/>
<polygon points="475.82,393.80 479.02,395.20 475.82,396.60" fill="#f5b56d" stroke="none" stroke-width="1"/>
<polygon points="492.38,395.30 495.58,396.70 492.38,398.10" fill="#f5b56d" stroke="none" stroke-width="1"/>
<polygon points="508.95,397.70 512.15,399.10 508.95,400.50" fill="#f5b56d" stroke="none" stroke-width="1"/>
<polygon points="525.51,396.30 528.71,397.70 525.51,399.10" fill="#f5b56d" stroke="none" stroke-width="1"/>
<line x1="38.50" y1="364.00" x2="38.50" y2="490.50" stroke="#6e6e6e" stroke-width="1"/>
<line x1="535.50" y1="364.00" x2="535.50" y2="490.50" stroke="#6e6e6e" stroke-width="1"/>
<line x1="38.00" y1="490.50" x2="536.00" y2="490.50" stroke="#6e6e6e" stroke-width="1"/>
<line x1="38.00" y1="364.00" x2="536.00" y2="364.00" stroke="#a8a8a8" stroke-width="1.6"/>
<line x1="35.50" y1="490.50" x2="38.50" y2="490.50" stroke="#6e6e6e" stroke-width="0.8"/>
<text x="33.3" y="493.2" font-size="7.9" text-anchor="end" fill="#1c1c1c" stroke="#1c1c1c" stroke-width="0.22">0</text>
<line x1="35.50" y1="466.43" x2="38.50" y2="466.43" stroke="#6e6e6e" stroke-width="0.8"/>
<text x="33.3" y="469.13" font-size="7.9" text-anchor="end" fill="#1c1c1c" stroke="#1c1c1c" stroke-width="0.22">20</text>
<line x1="35.50" y1="442.36" x2="38.50" y2="442.36" stroke="#6e6e6e" stroke-width="0.8"/>
<text x="33.3" y="445.06" font-size="7.9" text-anchor="end" fill="#1c1c1c" stroke="#1c1c1c" stroke-width="0.22">40</text>
<line x1="35.50" y1="418.29" x2="38.50" y2="418.29" stroke="#6e6e6e" stroke-width="0.8"/>
<text x="33.3" y="420.99" font-size="7.9" text-anchor="end" fill="#1c1c1c" stroke="#1c1c1c" stroke-width="0.22">60</text>
<line x1="35.50" y1="394.22" x2="38.50" y2="394.22" stroke="#6e6e6e" stroke-width="0.8"/>
<text x="33.3" y="396.92" font-size="7.9" text-anchor="end" fill="#1c1c1c" stroke="#1c1c1c" stroke-width="0.22">80</text>
<line x1="35.50" y1="370.15" x2="38.50" y2="370.15" stroke="#6e6e6e" stroke-width="0.8"/>
<text x="33.3" y="372.85" font-size="7.9" text-anchor="end" fill="#1c1c1c" stroke="#1c1c1c" stroke-width="0.22">100</text>
<line x1="36.70" y1="478.46" x2="38.50" y2="478.46" stroke="#6e6e6e" stroke-width="0.7"/>
<line x1="36.70" y1="454.39" x2="38.50" y2="454.39" stroke="#6e6e6e" stroke-width="0.7"/>
<line x1="36.70" y1="430.32" x2="38.50" y2="430.32" stroke="#6e6e6e" stroke-width="0.7"/>
<line x1="36.70" y1="406.25" x2="38.50" y2="406.25" stroke="#6e6e6e" stroke-width="0.7"/>
<line x1="36.70" y1="382.19" x2="38.50" y2="382.19" stroke="#6e6e6e" stroke-width="0.7"/>
<line x1="535.50" y1="490.50" x2="538.50" y2="490.50" stroke="#6e6e6e" stroke-width="0.8"/>
<text x="540.3" y="493.2" font-size="7.9" fill="#1c1c1c" stroke="#1c1c1c" stroke-width="0.22">0</text>
<line x1="535.50" y1="466.43" x2="538.50" y2="466.43" stroke="#6e6e6e" stroke-width="0.8"/>
<text x="540.3" y="469.13" font-size="7.9" fill="#1c1c1c" stroke="#1c1c1c" stroke-width="0.22">11</text>
<line x1="535.50" y1="442.36" x2="538.50" y2="442.36" stroke="#6e6e6e" stroke-width="0.8"/>
<text x="540.3" y="445.06" font-size="7.9" fill="#1c1c1c" stroke="#1c1c1c" stroke-width="0.22">23</text>
<line x1="535.50" y1="418.29" x2="538.50" y2="418.29" stroke="#6e6e6e" stroke-width="0.8"/>
<text x="540.3" y="420.99" font-size="7.9" fill="#1c1c1c" stroke="#1c1c1c" stroke-width="0.22">34</text>
<line x1="535.50" y1="394.22" x2="538.50" y2="394.22" stroke="#6e6e6e" stroke-width="0.8"/>
<text x="540.3" y="396.92" font-size="7.9" fill="#1c1c1c" stroke="#1c1c1c" stroke-width="0.22">46</text>
<line x1="535.50" y1="370.15" x2="538.50" y2="370.15" stroke="#6e6e6e" stroke-width="0.8"/>
<text x="540.3" y="372.85" font-size="7.9" fill="#1c1c1c" stroke="#1c1c1c" stroke-width="0.22">57</text>
<line x1="535.50" y1="478.46" x2="537.30" y2="478.46" stroke="#6e6e6e" stroke-width="0.7"/>
<line x1="535.50" y1="454.39" x2="537.30" y2="454.39" stroke="#6e6e6e" stroke-width="0.7"/>
<line x1="535.50" y1="430.32" x2="537.30" y2="430.32" stroke="#6e6e6e" stroke-width="0.7"/>
<line x1="535.50" y1="406.25" x2="537.30" y2="406.25" stroke="#6e6e6e" stroke-width="0.7"/>
<line x1="535.50" y1="382.19" x2="537.30" y2="382.19" stroke="#6e6e6e" stroke-width="0.7"/>
<line x1="79.83" y1="490.50" x2="79.83" y2="493.50" stroke="#6e6e6e" stroke-width="0.8"/>
<text x="79.83" y="501.4" font-size="7.9" text-anchor="middle" fill="#1c1c1c" stroke="#1c1c1c" stroke-width="0.22">18</text>
<line x1="129.53" y1="490.50" x2="129.53" y2="493.50" stroke="#6e6e6e" stroke-width="0.8"/>
<text x="129.53" y="501.4" font-size="7.9" text-anchor="middle" fill="#1c1c1c" stroke="#1c1c1c" stroke-width="0.22">36</text>
<line x1="179.23" y1="490.50" x2="179.23" y2="493.50" stroke="#6e6e6e" stroke-width="0.8"/>
<text x="179.23" y="501.4" font-size="7.9" text-anchor="middle" fill="#1c1c1c" stroke="#1c1c1c" stroke-width="0.22">54</text>
<line x1="228.93" y1="490.50" x2="228.93" y2="493.50" stroke="#6e6e6e" stroke-width="0.8"/>
<text x="228.93" y="501.4" font-size="7.9" text-anchor="middle" fill="#1c1c1c" stroke="#1c1c1c" stroke-width="0.22">72</text>
<line x1="278.62" y1="490.50" x2="278.62" y2="493.50" stroke="#6e6e6e" stroke-width="0.8"/>
<text x="278.62" y="501.4" font-size="7.9" text-anchor="middle" fill="#1c1c1c" stroke="#1c1c1c" stroke-width="0.22">90</text>
<line x1="328.32" y1="490.50" x2="328.32" y2="493.50" stroke="#6e6e6e" stroke-width="0.8"/>
<text x="328.32" y="501.4" font-size="7.9" text-anchor="middle" fill="#1c1c1c" stroke="#1c1c1c" stroke-width="0.22">108</text>
<line x1="378.02" y1="490.50" x2="378.02" y2="493.50" stroke="#6e6e6e" stroke-width="0.8"/>
<text x="378.02" y="501.4" font-size="7.9" text-anchor="middle" fill="#1c1c1c" stroke="#1c1c1c" stroke-width="0.22">126</text>
<line x1="427.72" y1="490.50" x2="427.72" y2="493.50" stroke="#6e6e6e" stroke-width="0.8"/>
<text x="427.72" y="501.4" font-size="7.9" text-anchor="middle" fill="#1c1c1c" stroke="#1c1c1c" stroke-width="0.22">144</text>
<line x1="477.42" y1="490.50" x2="477.42" y2="493.50" stroke="#6e6e6e" stroke-width="0.8"/>
<text x="477.42" y="501.4" font-size="7.9" text-anchor="middle" fill="#1c1c1c" stroke="#1c1c1c" stroke-width="0.22">162</text>
<line x1="527.11" y1="490.50" x2="527.11" y2="493.50" stroke="#6e6e6e" stroke-width="0.8"/>
<text x="527.11" y="501.4" font-size="7.9" text-anchor="middle" fill="#1c1c1c" stroke="#1c1c1c" stroke-width="0.22">180</text>
<line x1="54.98" y1="490.50" x2="54.98" y2="492.30" stroke="#6e6e6e" stroke-width="0.7"/>
<line x1="104.68" y1="490.50" x2="104.68" y2="492.30" stroke="#6e6e6e" stroke-width="0.7"/>
<line x1="154.38" y1="490.50" x2="154.38" y2="492.30" stroke="#6e6e6e" stroke-width="0.7"/>
<line x1="204.08" y1="490.50" x2="204.08" y2="492.30" stroke="#6e6e6e" stroke-width="0.7"/>
<line x1="253.77" y1="490.50" x2="253.77" y2="492.30" stroke="#6e6e6e" stroke-width="0.7"/>
<line x1="303.47" y1="490.50" x2="303.47" y2="492.30" stroke="#6e6e6e" stroke-width="0.7"/>
<line x1="353.17" y1="490.50" x2="353.17" y2="492.30" stroke="#6e6e6e" stroke-width="0.7"/>
<line x1="402.87" y1="490.50" x2="402.87" y2="492.30" stroke="#6e6e6e" stroke-width="0.7"/>
<line x1="452.57" y1="490.50" x2="452.57" y2="492.30" stroke="#6e6e6e" stroke-width="0.7"/>
<line x1="502.26" y1="490.50" x2="502.26" y2="492.30" stroke="#6e6e6e" stroke-width="0.7"/>
<text x="287" y="514.6" font-size="8.6" text-anchor="middle" fill="#1c1c1c" stroke="#1c1c1c" stroke-width="0.22">Time (h)</text>
<text x="17.2" y="426" font-size="8.6" text-anchor="middle" fill="#1c1c1c" stroke="#1c1c1c" stroke-width="0.22" transform="rotate(-90 17.2 426)">Yield and Sel. (%)</text>
<text x="557.9" y="426.5" font-size="8.6" text-anchor="middle" fill="#f3b26f" stroke="#f3b26f" stroke-width="0.22" transform="rotate(-90 557.9 426.5)">FE (%)</text>
<rect x="45.00" y="366.20" width="16.00" height="7.50" fill="url(#gYv)"/>
<text x="63.5" y="372.8" font-size="7.8" fill="#1c1c1c" stroke="#1c1c1c" stroke-width="0.22">Yield</text>
<rect x="84.30" y="366.20" width="17.00" height="7.50" fill="url(#gSv)"/>
<text x="103.9" y="372.8" font-size="7.8" fill="#1c1c1c" stroke="#1c1c1c" stroke-width="0.22">Sel.</text>
</g>
<g id="ph">
<text x="573.8" y="365" font-size="13.3" font-weight="bold" fill="#000" stroke="#000" stroke-width="0.22">h</text>
<rect x="599.50" y="363.50" width="169.00" height="126.00" fill="#4a86c6"/>
<polygon points="599.50,489.50 768.50,406.34 768.50,489.50" fill="#8dcbfa" stroke="none" stroke-width="1"/>
<polygon points="599.50,489.50 768.50,429.02 768.50,489.50" fill="#c1e2fc" stroke="none" stroke-width="1"/>
<polygon points="599.50,489.50 768.50,444.14 768.50,489.50" fill="#c9c9d1" stroke="none" stroke-width="1"/>
<polygon points="599.50,489.50 768.50,450.94 768.50,489.50" fill="#fbe4c0" stroke="none" stroke-width="1"/>
<polygon points="599.50,489.50 768.50,457.37 768.50,489.50" fill="#f1976b" stroke="none" stroke-width="1"/>
<polygon points="599.50,489.50 768.50,462.03 768.50,489.50" fill="#e8590f" stroke="none" stroke-width="1"/>
<line x1="599.50" y1="489.50" x2="768.50" y2="446.28" stroke="#3c4652" stroke-width="0.9" stroke-dasharray="6 2 1.4 2"/>
<polygon points="691.00,382.00 720.50,390.50 715.00,395.60 742.00,420.00 732.00,430.50 706.00,405.00 703.00,409.80" fill="url(#arw)" stroke="none" stroke-width="1"/>
<text x="613.8" y="387.5" font-size="8.6" fill="#0b2650" stroke="#0b2650" stroke-width="0.22">Profitable region</text>
<text x="635.3" y="431.6" font-size="8.6" fill="#eaf3fc" stroke="#eaf3fc" stroke-width="0.22">This work</text>
<polygon points="683.00,423.70 684.12,426.76 687.37,426.88 684.81,428.89 685.70,432.02 683.00,430.20 680.30,432.02 681.19,428.89 678.63,426.88 681.88,426.76" fill="#ffffff" stroke="none" stroke-width="1"/>
<text x="682.4" y="463.6" font-size="8.75" fill="#0b2650" stroke="#0b2650" stroke-width="0.22" transform="rotate(-13.4 682.4 463.6)">Breakeven point</text>
<line x1="599.50" y1="363.50" x2="599.50" y2="490.00" stroke="#333" stroke-width="1"/>
<line x1="599.00" y1="489.50" x2="769.00" y2="489.50" stroke="#333" stroke-width="1"/>
<line x1="768.50" y1="363.50" x2="768.50" y2="489.50" stroke="#333" stroke-width="0.9"/>
<line x1="599.50" y1="363.50" x2="768.50" y2="363.50" stroke="#333" stroke-width="0.8"/>
<line x1="596.50" y1="489.50" x2="599.50" y2="489.50" stroke="#333" stroke-width="0.8"/>
<text x="595.3" y="492.2" font-size="7.9" text-anchor="end" fill="#1c1c1c" stroke="#1c1c1c" stroke-width="0.22">0</text>
<line x1="596.50" y1="464.30" x2="599.50" y2="464.30" stroke="#333" stroke-width="0.8"/>
<text x="595.3" y="467.0" font-size="7.9" text-anchor="end" fill="#1c1c1c" stroke="#1c1c1c" stroke-width="0.22">20</text>
<line x1="596.50" y1="439.10" x2="599.50" y2="439.10" stroke="#333" stroke-width="0.8"/>
<text x="595.3" y="441.8" font-size="7.9" text-anchor="end" fill="#1c1c1c" stroke="#1c1c1c" stroke-width="0.22">40</text>
<line x1="596.50" y1="413.90" x2="599.50" y2="413.90" stroke="#333" stroke-width="0.8"/>
<text x="595.3" y="416.6" font-size="7.9" text-anchor="end" fill="#1c1c1c" stroke="#1c1c1c" stroke-width="0.22">60</text>
<line x1="596.50" y1="388.70" x2="599.50" y2="388.70" stroke="#333" stroke-width="0.8"/>
<text x="595.3" y="391.4" font-size="7.9" text-anchor="end" fill="#1c1c1c" stroke="#1c1c1c" stroke-width="0.22">80</text>
<line x1="596.50" y1="363.50" x2="599.50" y2="363.50" stroke="#333" stroke-width="0.8"/>
<text x="595.3" y="366.2" font-size="7.9" text-anchor="end" fill="#1c1c1c" stroke="#1c1c1c" stroke-width="0.22">100</text>
<line x1="597.70" y1="476.90" x2="599.50" y2="476.90" stroke="#333" stroke-width="0.7"/>
<line x1="597.70" y1="451.70" x2="599.50" y2="451.70" stroke="#333" stroke-width="0.7"/>
<line x1="597.70" y1="426.50" x2="599.50" y2="426.50" stroke="#333" stroke-width="0.7"/>
<line x1="597.70" y1="401.30" x2="599.50" y2="401.30" stroke="#333" stroke-width="0.7"/>
<line x1="597.70" y1="376.10" x2="599.50" y2="376.10" stroke="#333" stroke-width="0.7"/>
<line x1="599.50" y1="489.50" x2="599.50" y2="492.50" stroke="#333" stroke-width="0.8"/>
<text x="599.5" y="500.8" font-size="7.9" text-anchor="middle" fill="#1c1c1c" stroke="#1c1c1c" stroke-width="0.22">0.00</text>
<line x1="641.75" y1="489.50" x2="641.75" y2="492.50" stroke="#333" stroke-width="0.8"/>
<text x="641.75" y="500.8" font-size="7.9" text-anchor="middle" fill="#1c1c1c" stroke="#1c1c1c" stroke-width="0.22">0.05</text>
<line x1="684.00" y1="489.50" x2="684.00" y2="492.50" stroke="#333" stroke-width="0.8"/>
<text x="684.0" y="500.8" font-size="7.9" text-anchor="middle" fill="#1c1c1c" stroke="#1c1c1c" stroke-width="0.22">0.10</text>
<line x1="726.25" y1="489.50" x2="726.25" y2="492.50" stroke="#333" stroke-width="0.8"/>
<text x="726.25" y="500.8" font-size="7.9" text-anchor="middle" fill="#1c1c1c" stroke="#1c1c1c" stroke-width="0.22">0.15</text>
<line x1="768.50" y1="489.50" x2="768.50" y2="492.50" stroke="#333" stroke-width="0.8"/>
<text x="768.5" y="500.8" font-size="7.9" text-anchor="middle" fill="#1c1c1c" stroke="#1c1c1c" stroke-width="0.22">0.20</text>
<line x1="620.62" y1="489.50" x2="620.62" y2="491.30" stroke="#333" stroke-width="0.7"/>
<line x1="662.88" y1="489.50" x2="662.88" y2="491.30" stroke="#333" stroke-width="0.7"/>
<line x1="705.12" y1="489.50" x2="705.12" y2="491.30" stroke="#333" stroke-width="0.7"/>
<line x1="747.38" y1="489.50" x2="747.38" y2="491.30" stroke="#333" stroke-width="0.7"/>
<text x="684.5" y="517" font-size="8.6" text-anchor="middle" fill="#1c1c1c" stroke="#1c1c1c" stroke-width="0.22">Electricity cost ($/kWh)</text>
<text x="579" y="426.5" font-size="8.6" text-anchor="middle" fill="#1c1c1c" stroke="#1c1c1c" stroke-width="0.22" transform="rotate(-90 579 426.5)">FE (%)</text>
<rect x="776.20" y="363.20" width="12.80" height="17.80" fill="#4a86c6"/>
<rect x="776.20" y="380.70" width="12.80" height="19.20" fill="#8dcbfa"/>
<rect x="776.20" y="399.60" width="12.80" height="18.90" fill="#c1e2fc"/>
<rect x="776.20" y="418.20" width="12.80" height="18.10" fill="#c9c9d1"/>
<rect x="776.20" y="436.00" width="12.80" height="18.80" fill="#fbe4c0"/>
<rect x="776.20" y="454.50" width="12.80" height="18.80" fill="#f1976b"/>
<rect x="776.20" y="473.00" width="12.80" height="18.10" fill="#e8590f"/>
<text x="792.8" y="382.6" font-size="7.6" fill="#1c1c1c" stroke="#1c1c1c" stroke-width="0.22">$ 1000</text>
<text x="792.8" y="401.5" font-size="7.6" fill="#1c1c1c" stroke="#1c1c1c" stroke-width="0.22">$ 1400</text>
<text x="792.8" y="420.1" font-size="7.6" fill="#1c1c1c" stroke="#1c1c1c" stroke-width="0.22">$ 1800</text>
<text x="792.8" y="437.9" font-size="7.6" fill="#1c1c1c" stroke="#1c1c1c" stroke-width="0.22">$ 2200</text>
<text x="792.8" y="456.4" font-size="7.6" fill="#1c1c1c" stroke="#1c1c1c" stroke-width="0.22">$ 2600</text>
<text x="792.8" y="474.9" font-size="7.6" fill="#1c1c1c" stroke="#1c1c1c" stroke-width="0.22">$ 3000</text>
</g>
</svg>
</body>
</html>
